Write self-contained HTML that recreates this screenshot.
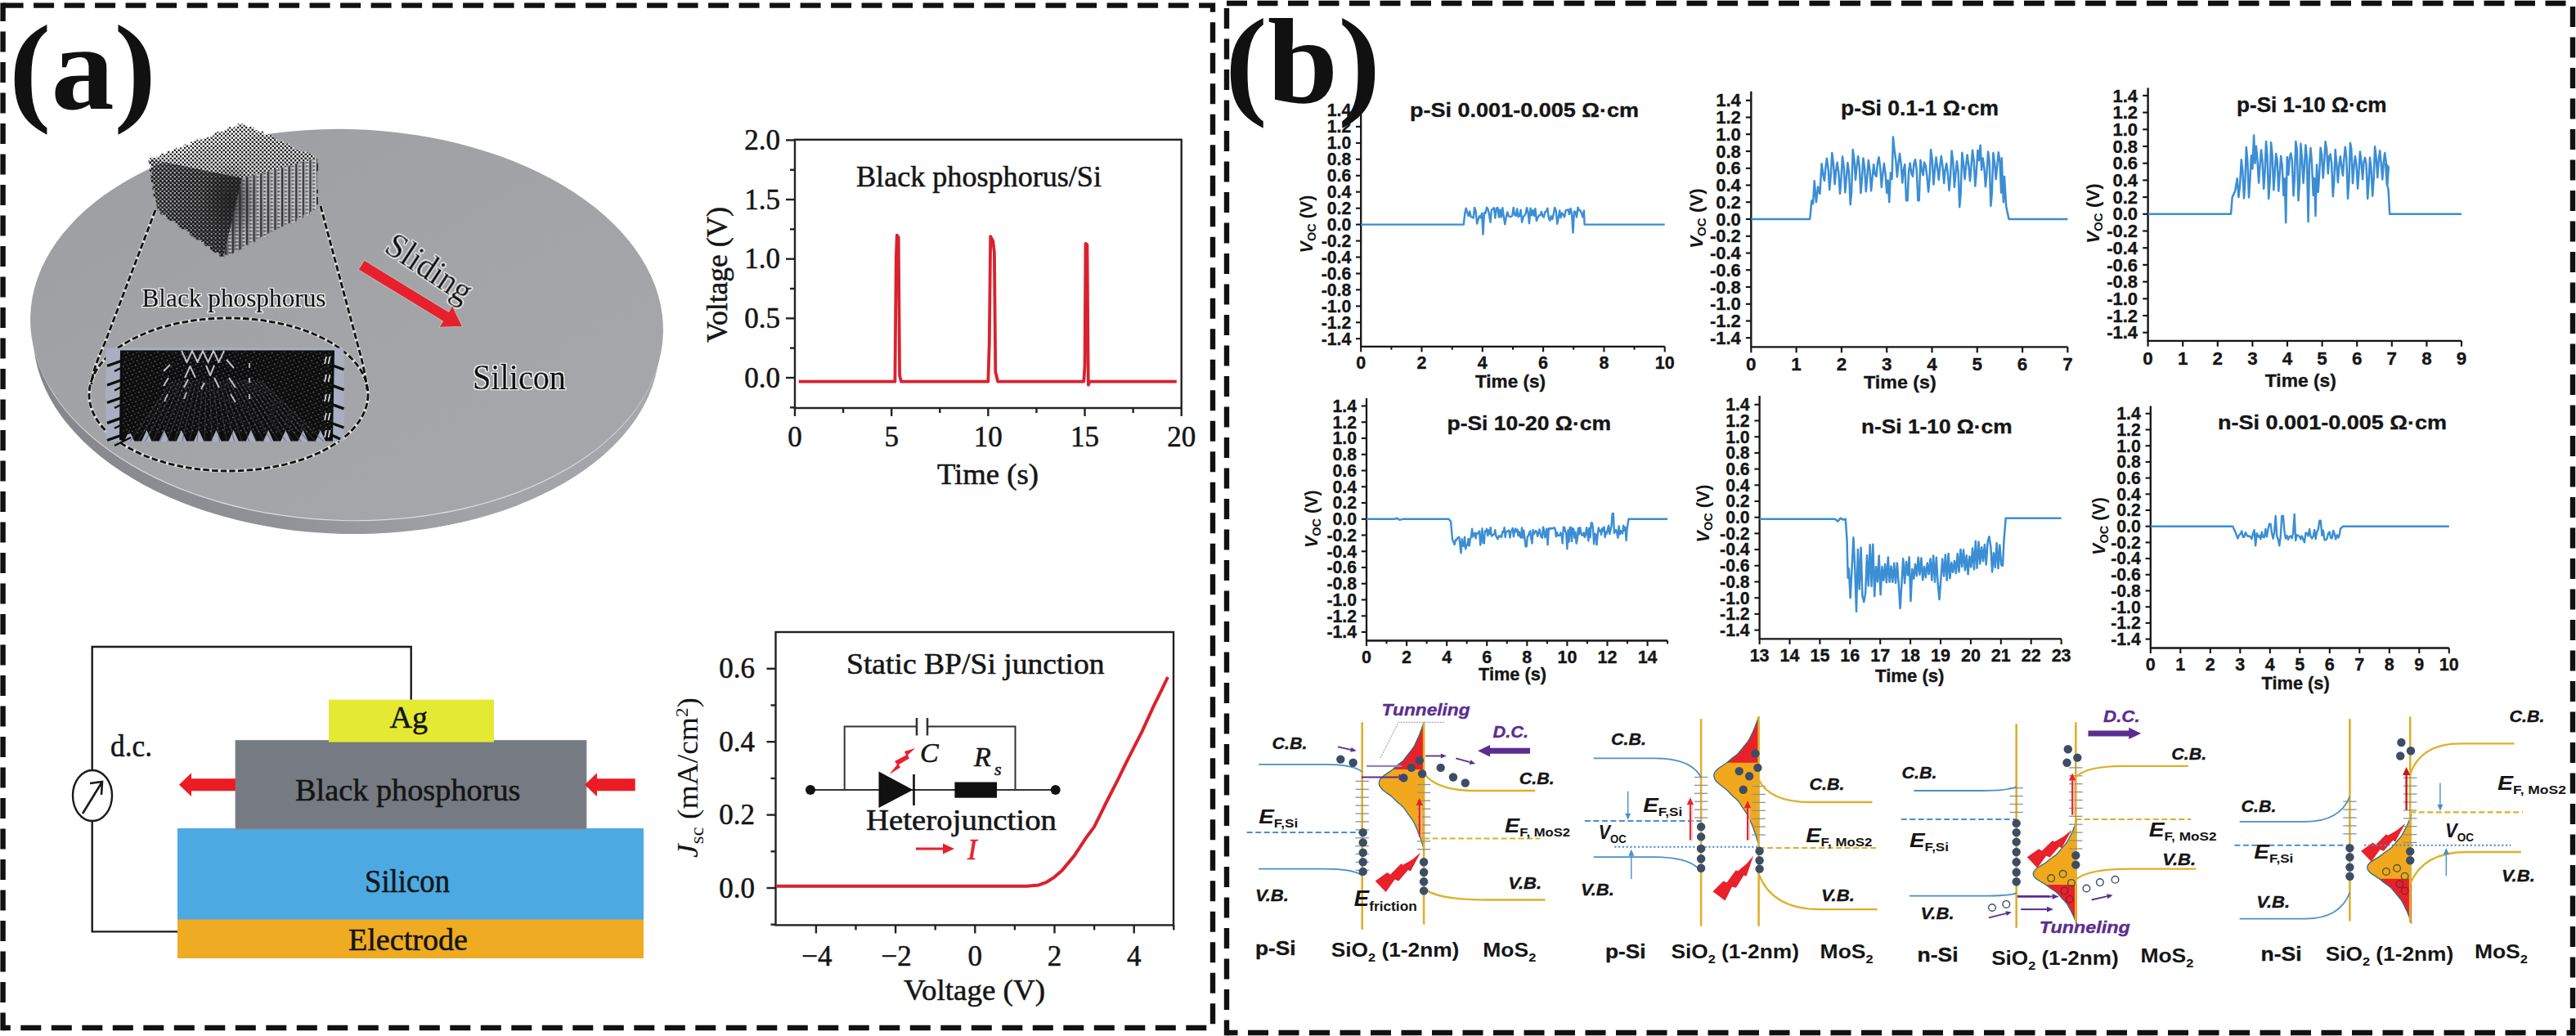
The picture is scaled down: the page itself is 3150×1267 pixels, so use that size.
<!DOCTYPE html>
<html lang="en"><head><meta charset="utf-8"><title>Figure</title>
<style>
html,body{margin:0;padding:0;background:#fff;}
body{width:3150px;height:1267px;overflow:hidden;}
svg{display:block;}
text{white-space:pre;}
</style></head><body>
<svg width="3150" height="1267" viewBox="0 0 3150 1267">
<rect width="3150" height="1267" fill="#fff"/>

<g fill="none" stroke="#111" stroke-width="6.4" stroke-dasharray="25 12.5">
<path d="M3.6 6.6 H1483 V1257 H3.6"/>
<path d="M3.6 3.4 V1260.2" stroke-dashoffset="2.3"/>
<path d="M1500 4 H3146 V1263 H1500"/>
<path d="M1500 10 V1266.2"/>
</g>
<defs>
<linearGradient id="discTop" x1="0" y1="0" x2="1" y2="1">
<stop offset="0" stop-color="#9d9ea1"/><stop offset="0.5" stop-color="#a3a4a7"/><stop offset="1" stop-color="#a6a7aa"/>
</linearGradient>
<linearGradient id="discRim" x1="0" y1="0" x2="1" y2="0">
<stop offset="0" stop-color="#85868b"/><stop offset="0.4" stop-color="#909298"/><stop offset="0.7" stop-color="#a0a2a8"/><stop offset="1" stop-color="#a6a8ad"/>
</linearGradient>
<pattern id="dots" width="5" height="5" patternUnits="userSpaceOnUse">
<rect x="0" y="0" width="2.7" height="2.7" fill="#121214"/><rect x="2.5" y="2.5" width="2.7" height="2.7" fill="#121214"/>
<rect x="2.6" y="0" width="1.8" height="1.8" fill="#c8c8ca" opacity="0.5"/>
</pattern>
<pattern id="dotsW" width="5" height="5" patternUnits="userSpaceOnUse">
<rect x="0" y="0" width="2.4" height="2.4" fill="#1c1c1e"/><rect x="2.5" y="2.5" width="2.4" height="2.4" fill="#1c1c1e"/>
<rect x="2.5" y="0" width="2.4" height="2.4" fill="#ffffff" opacity="0.9"/><rect x="0" y="2.5" width="2.4" height="2.4" fill="#ffffff" opacity="0.65"/>
</pattern>
<pattern id="cols" width="8.6" height="4.4" patternUnits="userSpaceOnUse">
<rect x="0" y="0" width="2.2" height="4.4" fill="#343437"/><rect x="4.3" y="0" width="2" height="2.2" fill="#4a4a4d"/>
<rect x="4.3" y="2.2" width="3.4" height="2.2" fill="#dcdcde" opacity="0.75"/>
</pattern>
<pattern id="speck" width="7" height="6" patternUnits="userSpaceOnUse" patternTransform="rotate(18)">
<rect x="1" y="1" width="1.5" height="1.5" fill="#8c8d95" opacity="0.8"/><rect x="4.5" y="3.8" width="1.3" height="1.3" fill="#70717a" opacity="0.8"/>
</pattern>
<linearGradient id="topShade" x1="0" y1="0" x2="1" y2="0.6">
<stop offset="0" stop-color="#fff" stop-opacity="0.6"/><stop offset="0.5" stop-color="#ddd" stop-opacity="0.5"/><stop offset="1" stop-color="#999" stop-opacity="0.3"/>
</linearGradient>
<linearGradient id="leftShade" x1="0" y1="0" x2="1" y2="0">
<stop offset="0" stop-color="#555" stop-opacity="0.15"/><stop offset="1" stop-color="#222" stop-opacity="0.8"/>
</linearGradient>
<linearGradient id="rightShade" x1="0" y1="0" x2="1" y2="0">
<stop offset="0" stop-color="#444" stop-opacity="0.6"/><stop offset="0.35" stop-color="#999" stop-opacity="0.3"/><stop offset="1" stop-color="#ccc" stop-opacity="0.35"/>
</linearGradient>
<radialGradient id="core"><stop offset="0" stop-color="#222" stop-opacity="0.75"/><stop offset="1" stop-color="#222" stop-opacity="0"/></radialGradient>
<filter id="halo" x="-10%" y="-30%" width="120%" height="160%"><feMorphology in="SourceAlpha" operator="dilate" radius="1.25" result="d"/><feFlood flood-color="#fff"/><feComposite in2="d" operator="in" result="h"/><feMerge><feMergeNode in="h"/><feMergeNode in="SourceGraphic"/></feMerge></filter>
<filter id="soft" x="-5%" y="-5%" width="110%" height="110%"><feGaussianBlur stdDeviation="0.6"/></filter>
<filter id="soft2" x="-5%" y="-5%" width="110%" height="110%"><feGaussianBlur stdDeviation="1.2"/></filter>
<clipPath id="bpclip"><rect x="128.5" y="427.5" width="295.5" height="113.5"/></clipPath>
</defs>
<text x="11" y="133" font-family='"Liberation Serif", serif' font-size="149" font-weight="bold" fill="#111" textLength="180" lengthAdjust="spacingAndGlyphs">(a)</text>
<text x="1498" y="124.5" font-family='"Liberation Serif", serif' font-size="149" font-weight="bold" fill="#111" textLength="190" lengthAdjust="spacingAndGlyphs">(b)</text>
<g transform="rotate(1.5 424 397)">
<ellipse cx="424" cy="416.5" rx="383" ry="236.5" fill="url(#discRim)"/>
<ellipse cx="424" cy="399.2" rx="386.5" ry="238" fill="#dcdcde"/>
<ellipse cx="424" cy="397" rx="387" ry="239" fill="url(#discTop)"/>
</g>
<g filter="url(#soft2)">
<polygon points="190,257 272.7,316 389,257 330,250" fill="#6e6e70" opacity="0.3"/>
</g>
<g filter="url(#soft)">
<polygon points="296.5,149.2 390,193 296,218 181,194" fill="url(#topShade)"/>
<polygon points="296.5,149.2 390,193 296,218 181,194" fill="url(#dotsW)"/>
<polygon points="181,194 296,218 272.7,316 190,257" fill="url(#leftShade)"/>
<polygon points="181,194 296,218 272.7,316 190,257" fill="url(#dots)"/>
<polygon points="296,218 390,193 389,257 272.7,316" fill="url(#rightShade)"/>
<polygon points="296,218 390,193 389,257 272.7,316" fill="url(#cols)"/>
<ellipse cx="281" cy="244" rx="36" ry="46" fill="url(#core)"/>
<rect x="294.3" y="147.0" width="4.4" height="4.4" fill="#ffffff"/>
<rect x="298.4" y="148.9" width="4.4" height="4.4" fill="#ffffff"/>
<rect x="302.4" y="150.8" width="4.4" height="4.4" fill="#ffffff"/>
<rect x="310.6" y="154.6" width="4.4" height="4.4" fill="#ffffff"/>
<rect x="314.6" y="156.5" width="4.4" height="4.4" fill="#ffffff"/>
<rect x="322.8" y="160.3" width="4.4" height="4.4" fill="#ffffff"/>
<rect x="335.0" y="166.0" width="4.4" height="4.4" fill="#a1a2a5"/>
<rect x="339.0" y="167.9" width="4.4" height="4.4" fill="#a1a2a5"/>
<rect x="347.1" y="171.8" width="4.4" height="4.4" fill="#a1a2a5"/>
<rect x="355.3" y="175.6" width="4.4" height="4.4" fill="#a1a2a5"/>
<rect x="359.3" y="177.5" width="4.4" height="4.4" fill="#a1a2a5"/>
<rect x="363.4" y="179.4" width="4.4" height="4.4" fill="#a1a2a5"/>
<rect x="367.5" y="181.3" width="4.4" height="4.4" fill="#a1a2a5"/>
<rect x="383.7" y="188.9" width="4.4" height="4.4" fill="#a1a2a5"/>
<rect x="387.8" y="190.8" width="4.4" height="4.4" fill="#a1a2a5"/>
<rect x="387.7" y="195.4" width="4.4" height="4.4" fill="#a1a2a5"/>
<rect x="387.5" y="209.1" width="4.4" height="4.4" fill="#a1a2a5"/>
<rect x="387.4" y="213.7" width="4.4" height="4.4" fill="#a1a2a5"/>
<rect x="387.4" y="218.2" width="4.4" height="4.4" fill="#a1a2a5"/>
<rect x="387.3" y="222.8" width="4.4" height="4.4" fill="#a1a2a5"/>
<rect x="387.2" y="227.4" width="4.4" height="4.4" fill="#a1a2a5"/>
<rect x="387.1" y="236.5" width="4.4" height="4.4" fill="#a1a2a5"/>
<rect x="386.9" y="250.2" width="4.4" height="4.4" fill="#a1a2a5"/>
<rect x="386.8" y="254.8" width="4.4" height="4.4" fill="#a1a2a5"/>
<rect x="386.8" y="254.8" width="4.4" height="4.4" fill="#a1a2a5"/>
<rect x="382.8" y="256.8" width="4.4" height="4.4" fill="#a1a2a5"/>
<rect x="378.8" y="258.9" width="4.4" height="4.4" fill="#a1a2a5"/>
<rect x="370.8" y="262.9" width="4.4" height="4.4" fill="#a1a2a5"/>
<rect x="362.7" y="267.0" width="4.4" height="4.4" fill="#a1a2a5"/>
<rect x="350.7" y="273.1" width="4.4" height="4.4" fill="#a1a2a5"/>
<rect x="346.7" y="275.1" width="4.4" height="4.4" fill="#a1a2a5"/>
<rect x="342.7" y="277.2" width="4.4" height="4.4" fill="#a1a2a5"/>
<rect x="338.7" y="279.2" width="4.4" height="4.4" fill="#a1a2a5"/>
<rect x="334.7" y="281.2" width="4.4" height="4.4" fill="#a1a2a5"/>
<rect x="330.7" y="283.3" width="4.4" height="4.4" fill="#a1a2a5"/>
<rect x="326.6" y="285.3" width="4.4" height="4.4" fill="#a1a2a5"/>
<rect x="318.6" y="289.4" width="4.4" height="4.4" fill="#a1a2a5"/>
<rect x="314.6" y="291.4" width="4.4" height="4.4" fill="#a1a2a5"/>
<rect x="306.6" y="295.5" width="4.4" height="4.4" fill="#a1a2a5"/>
<rect x="298.6" y="299.6" width="4.4" height="4.4" fill="#a1a2a5"/>
<rect x="286.5" y="305.7" width="4.4" height="4.4" fill="#a1a2a5"/>
<rect x="274.5" y="311.8" width="4.4" height="4.4" fill="#a1a2a5"/>
<rect x="270.5" y="313.8" width="4.4" height="4.4" fill="#a1a2a5"/>
<rect x="263.3" y="308.7" width="4.4" height="4.4" fill="#a1a2a5"/>
<rect x="252.5" y="301.0" width="4.4" height="4.4" fill="#a1a2a5"/>
<rect x="245.3" y="295.8" width="4.4" height="4.4" fill="#a1a2a5"/>
<rect x="241.7" y="293.3" width="4.4" height="4.4" fill="#a1a2a5"/>
<rect x="227.4" y="283.0" width="4.4" height="4.4" fill="#a1a2a5"/>
<rect x="223.8" y="280.5" width="4.4" height="4.4" fill="#a1a2a5"/>
<rect x="213.0" y="272.8" width="4.4" height="4.4" fill="#a1a2a5"/>
<rect x="209.4" y="270.2" width="4.4" height="4.4" fill="#a1a2a5"/>
<rect x="198.6" y="262.5" width="4.4" height="4.4" fill="#a1a2a5"/>
<rect x="191.4" y="257.4" width="4.4" height="4.4" fill="#a1a2a5"/>
<rect x="187.8" y="254.8" width="4.4" height="4.4" fill="#a1a2a5"/>
<rect x="187.8" y="254.8" width="4.4" height="4.4" fill="#a1a2a5"/>
<rect x="187.2" y="250.3" width="4.4" height="4.4" fill="#a1a2a5"/>
<rect x="186.5" y="245.8" width="4.4" height="4.4" fill="#a1a2a5"/>
<rect x="185.9" y="241.3" width="4.4" height="4.4" fill="#a1a2a5"/>
<rect x="184.6" y="232.3" width="4.4" height="4.4" fill="#a1a2a5"/>
<rect x="183.3" y="223.3" width="4.4" height="4.4" fill="#a1a2a5"/>
<rect x="181.4" y="209.8" width="4.4" height="4.4" fill="#a1a2a5"/>
<rect x="180.1" y="200.8" width="4.4" height="4.4" fill="#ffffff"/>
<rect x="178.8" y="191.8" width="4.4" height="4.4" fill="#ffffff"/>
<rect x="178.8" y="191.8" width="4.4" height="4.4" fill="#ffffff"/>
<rect x="187.1" y="188.6" width="4.4" height="4.4" fill="#ffffff"/>
<rect x="191.2" y="187.0" width="4.4" height="4.4" fill="#ffffff"/>
<rect x="199.4" y="183.8" width="4.4" height="4.4" fill="#ffffff"/>
<rect x="207.7" y="180.6" width="4.4" height="4.4" fill="#ffffff"/>
<rect x="215.9" y="177.4" width="4.4" height="4.4" fill="#ffffff"/>
<rect x="220.1" y="175.8" width="4.4" height="4.4" fill="#ffffff"/>
<rect x="228.3" y="172.6" width="4.4" height="4.4" fill="#ffffff"/>
<rect x="244.8" y="166.2" width="4.4" height="4.4" fill="#ffffff"/>
<rect x="248.9" y="164.6" width="4.4" height="4.4" fill="#ffffff"/>
<rect x="253.1" y="163.0" width="4.4" height="4.4" fill="#ffffff"/>
<rect x="257.2" y="161.4" width="4.4" height="4.4" fill="#ffffff"/>
<rect x="269.6" y="156.6" width="4.4" height="4.4" fill="#ffffff"/>
<rect x="273.7" y="155.0" width="4.4" height="4.4" fill="#ffffff"/>
<rect x="281.9" y="151.8" width="4.4" height="4.4" fill="#ffffff"/>
<rect x="286.1" y="150.2" width="4.4" height="4.4" fill="#ffffff"/>
</g>
<g fill="none" stroke="#dcdcdc" stroke-width="4.2" >
<path d="M190 257 L128 420 Q112 455 112 470"/>
<path d="M392 252 L437 420 Q447 455 449 478"/>
<ellipse cx="279.5" cy="482.5" rx="170.5" ry="93.5"/>
</g>
<g fill="none" stroke="#111" stroke-width="2.8" stroke-dasharray="7.5 3.2">
<path d="M190 257 L128 420 Q112 455 112 470"/>
<path d="M392 252 L437 420 Q447 455 449 478"/>
<ellipse cx="279.5" cy="482.5" rx="170.5" ry="93.5"/>
</g>
<g filter="url(#soft)">
<rect x="129.3" y="425.5" width="291.2" height="114.5" fill="#a9afc0"/>
<polygon points="147,428.5 409,428.5 407,536 407.0,539.5 398.0,539.5 391.9,526 385.8,539.5 376.8,539.5 370.6,526 364.5,539.5 355.5,539.5 349.4,526 343.2,539.5 334.2,539.5 328.1,526 322.0,539.5 313.0,539.5 306.9,526 300.8,539.5 291.8,539.5 285.6,526 279.5,539.5 270.5,539.5 264.4,526 258.2,539.5 249.2,539.5 243.1,526 237.0,539.5 228.0,539.5 221.9,526 215.8,539.5 206.8,539.5 200.6,526 194.5,539.5 185.5,539.5 179.4,526 173.2,539.5 164.2,539.5 158.1,526 152,539.5 146,538" fill="#0c0c0c"/>
<g stroke="#0c0c0c" stroke-width="3.4" stroke-linecap="butt">
<line x1="172" y1="433" x2="131" y2="447.5"/>
<line x1="160" y1="444" x2="140" y2="454" stroke-width="2.4"/>
<line x1="172" y1="456.5" x2="131" y2="471.0"/>
<line x1="160" y1="467.5" x2="140" y2="477.5" stroke-width="2.4"/>
<line x1="172" y1="478" x2="131" y2="492.5"/>
<line x1="160" y1="489" x2="140" y2="499" stroke-width="2.4"/>
<line x1="172" y1="502.79999999999995" x2="131" y2="517.3"/>
<line x1="160" y1="513.8" x2="140" y2="523.8" stroke-width="2.4"/>
<line x1="172" y1="524" x2="131" y2="538.5"/>
<line x1="160" y1="535" x2="140" y2="545" stroke-width="2.4"/>
<line x1="385" y1="439" x2="420.5" y2="452"/>
<line x1="385" y1="463.7" x2="420.5" y2="476.7"/>
<line x1="385" y1="486.8" x2="420.5" y2="499.8"/>
<line x1="385" y1="510" x2="420.5" y2="523"/>
<line x1="395" y1="527" x2="416" y2="537"/>
</g>
<g clip-path="url(#bpclip)" stroke="#4a4b52" stroke-width="1.2" fill="none" opacity="0.55">
<line x1="211.3" y1="465.2" x2="159.1" y2="540"/>
<line x1="215.4" y1="465.2" x2="168.2" y2="540"/>
<line x1="219.5" y1="465.2" x2="177.3" y2="540"/>
<line x1="223.6" y1="465.2" x2="186.4" y2="540"/>
<line x1="227.7" y1="465.2" x2="195.5" y2="540"/>
<line x1="231.8" y1="465.2" x2="204.6" y2="540"/>
<line x1="235.9" y1="465.2" x2="213.7" y2="540"/>
<line x1="240.0" y1="465.2" x2="222.8" y2="540"/>
<line x1="244.1" y1="465.2" x2="231.9" y2="540"/>
<line x1="248.2" y1="465.2" x2="241.0" y2="540"/>
<line x1="252.2" y1="465.2" x2="250.1" y2="540"/>
<line x1="256.3" y1="465.2" x2="259.2" y2="540"/>
<line x1="260.4" y1="465.2" x2="268.3" y2="540"/>
<line x1="264.5" y1="465.2" x2="277.4" y2="540"/>
<line x1="268.6" y1="465.2" x2="286.5" y2="540"/>
<line x1="272.7" y1="465.2" x2="295.6" y2="540"/>
<line x1="276.8" y1="465.2" x2="304.7" y2="540"/>
<line x1="280.9" y1="465.2" x2="313.8" y2="540"/>
<line x1="285.0" y1="465.2" x2="322.9" y2="540"/>
<line x1="289.1" y1="465.2" x2="332.0" y2="540"/>
<line x1="293.2" y1="465.2" x2="341.1" y2="540"/>
<line x1="297.3" y1="465.2" x2="350.2" y2="540"/>
<line x1="301.4" y1="465.2" x2="359.3" y2="540"/>
<line x1="305.5" y1="465.2" x2="368.4" y2="540"/>
<line x1="309.6" y1="465.2" x2="377.5" y2="540"/>
<line x1="313.7" y1="465.2" x2="386.6" y2="540"/>
<line x1="317.8" y1="465.2" x2="395.7" y2="540"/>
</g>
<rect x="150" y="430" width="256" height="100" fill="url(#speck)"/>
<g stroke="#dcdce6" stroke-width="2" fill="none" stroke-linejoin="round" opacity="0.85">
<path d="M222 429 l6.5 14 l6.5 -14 l6.5 14 l6.5 -14 l6.5 14 l6.5 -14 l6.5 14 l6.5 -14"/>
<path d="M208 446 l-8 8 M226 462 l6.5 -14 l6.5 14 M252 447 l5 12 l5 -12 M277 440 l9 10"/>
<path d="M206 462 l-6 10 M225 474 l5 -10 M250 468 l-4 8 M262 462 l6 12 M280 462 l8 12"/>
<path d="M205 482 l-4 9 M228 480 l-3 8 M282 482 l6 10 M305 444 l0 6 M305 462 l0 6 M305 482 l0 6" stroke-width="1.8"/>
</g>
<g stroke="#e4e4ec" stroke-width="1.6">
<line x1="399" y1="436" x2="397" y2="445"/><line x1="403.5" y1="436" x2="401.5" y2="445"/>
<line x1="399" y1="458" x2="397" y2="467"/><line x1="403.5" y1="458" x2="401.5" y2="467"/>
<line x1="399" y1="482" x2="397" y2="491"/><line x1="403.5" y1="482" x2="401.5" y2="491"/>
<line x1="399" y1="505" x2="397" y2="514"/><line x1="403.5" y1="505" x2="401.5" y2="514"/>
<line x1="399" y1="526" x2="397" y2="535"/><line x1="403.5" y1="526" x2="401.5" y2="535"/>
</g>
</g>
<text x="173.5" y="374.5" font-family='"Liberation Serif", serif' font-size="30.5" fill="#111" textLength="225" lengthAdjust="spacingAndGlyphs" stroke="#111" stroke-width="0.7" filter="url(#halo)">Black phosphorus</text>
<text x="578" y="476" font-family='"Liberation Serif", serif' font-size="44" fill="#111" textLength="114" lengthAdjust="spacingAndGlyphs" stroke="#111" stroke-width="0.7" filter="url(#halo)">Silicon</text>
<text x="468" y="307" font-family='"Liberation Serif", serif' font-size="44" fill="#111" textLength="118" lengthAdjust="spacingAndGlyphs" transform="rotate(33.5 468 307)" stroke="#111" stroke-width="0.7" filter="url(#halo)">Sliding</text>
<g transform="translate(441.8 324) rotate(31.4)"><polygon points="0,-6.8 121,-6.8 121,-15.5 145,0 121,15.5 121,6.8 0,6.8" fill="#e8202e" stroke="#b4bcb4" stroke-width="1"/></g>
<g stroke="#222" stroke-width="2.4" fill="none">
<rect x="972" y="170.8" width="472.70000000000005" height="328.2"/>
<line x1="972" y1="462.0" x2="961" y2="462.0"/><line x1="972" y1="389.35" x2="961" y2="389.35"/><line x1="972" y1="316.7" x2="961" y2="316.7"/><line x1="972" y1="244.04999999999998" x2="961" y2="244.04999999999998"/><line x1="972" y1="171.39999999999998" x2="961" y2="171.39999999999998"/>
<line x1="972" y1="498.325" x2="966" y2="498.325"/><line x1="972" y1="425.675" x2="966" y2="425.675"/><line x1="972" y1="353.025" x2="966" y2="353.025"/><line x1="972" y1="280.375" x2="966" y2="280.375"/><line x1="972" y1="207.72499999999997" x2="966" y2="207.72499999999997"/>
<line x1="972.0" y1="499" x2="972.0" y2="509"/><line x1="1090.175" y1="499" x2="1090.175" y2="509"/><line x1="1208.35" y1="499" x2="1208.35" y2="509"/><line x1="1326.525" y1="499" x2="1326.525" y2="509"/><line x1="1444.7" y1="499" x2="1444.7" y2="509"/>
<line x1="1031.0875" y1="499" x2="1031.0875" y2="505"/><line x1="1149.2625" y1="499" x2="1149.2625" y2="505"/><line x1="1267.4375" y1="499" x2="1267.4375" y2="505"/><line x1="1385.6125" y1="499" x2="1385.6125" y2="505"/>
</g>
<text x="954" y="473.5" font-family='"Liberation Serif", serif' font-size="35" text-anchor="end" fill="#151515" stroke="#151515" stroke-width="0.55">0.0</text>
<text x="954" y="400.85" font-family='"Liberation Serif", serif' font-size="35" text-anchor="end" fill="#151515" stroke="#151515" stroke-width="0.55">0.5</text>
<text x="954" y="328.2" font-family='"Liberation Serif", serif' font-size="35" text-anchor="end" fill="#151515" stroke="#151515" stroke-width="0.55">1.0</text>
<text x="954" y="255.54999999999998" font-family='"Liberation Serif", serif' font-size="35" text-anchor="end" fill="#151515" stroke="#151515" stroke-width="0.55">1.5</text>
<text x="954" y="182.89999999999998" font-family='"Liberation Serif", serif' font-size="35" text-anchor="end" fill="#151515" stroke="#151515" stroke-width="0.55">2.0</text>
<text x="972.0" y="546" font-family='"Liberation Serif", serif' font-size="35" text-anchor="middle" fill="#151515" stroke="#151515" stroke-width="0.55">0</text>
<text x="1090.175" y="546" font-family='"Liberation Serif", serif' font-size="35" text-anchor="middle" fill="#151515" stroke="#151515" stroke-width="0.55">5</text>
<text x="1208.35" y="546" font-family='"Liberation Serif", serif' font-size="35" text-anchor="middle" fill="#151515" stroke="#151515" stroke-width="0.55">10</text>
<text x="1326.525" y="546" font-family='"Liberation Serif", serif' font-size="35" text-anchor="middle" fill="#151515" stroke="#151515" stroke-width="0.55">15</text>
<text x="1444.7" y="546" font-family='"Liberation Serif", serif' font-size="35" text-anchor="middle" fill="#151515" stroke="#151515" stroke-width="0.55">20</text>
<text x="1208" y="592" font-family='"Liberation Serif", serif' font-size="36" text-anchor="middle" fill="#151515" stroke="#151515" stroke-width="0.55" textLength="124" lengthAdjust="spacingAndGlyphs">Time (s)</text>
<text x="888.5" y="336" font-family='"Liberation Serif", serif' font-size="36" text-anchor="middle" fill="#151515" stroke="#151515" stroke-width="0.55" textLength="166" lengthAdjust="spacingAndGlyphs" transform="rotate(-90 888.5 336)">Voltage (V)</text>
<text x="1047" y="228" font-family='"Liberation Serif", serif' font-size="36.5" fill="#151515" stroke="#151515" stroke-width="0.55" textLength="300" lengthAdjust="spacingAndGlyphs">Black phosphorus/Si</text>
<path d="M976.7 466.7 L1094.4 466.7 L1095.8 316.7 L1096.8 287.6 L1098.7 290.5 L1100.1 459.1 L1102.0 466.7 L1208.3 466.7 L1209.8 418.4 L1211.2 289.1 L1214.3 294.9 L1215.9 309.4 L1217.3 454.7 L1220.2 466.7 L1325.3 466.7 L1326.5 447.5 L1327.5 297.8 L1329.4 299.3 L1330.8 470.7 L1332.4 466.7 L1438.8 466.7" fill="none" stroke="#d9222e" stroke-width="3.8" stroke-linejoin="round"/>
<path d="M502.7 856 V791 H112.7 V1139.4 H218" fill="none" stroke="#1a1a1a" stroke-width="2.4"/>
<rect x="217" y="1124" width="570" height="48" fill="#efab22"/>
<rect x="217" y="1013" width="570" height="111.5" fill="#4ca9e2"/>
<rect x="288" y="905.5" width="429" height="108.5" fill="#767a82" stroke="#8a8e98" stroke-width="1"/>
<rect x="402" y="855.6" width="202" height="52" fill="#e4ea33"/>
<ellipse cx="113" cy="973" rx="24" ry="31" fill="#fff" stroke="#1a1a1a" stroke-width="2.4"/>
<path d="M101 995 L125 956 M110 958 L125 956 L124 972" fill="none" stroke="#1a1a1a" stroke-width="2.6"/>
<polygon points="219,959.7 234,945.3 234,952.2 288,952.2 288,967.2 234,967.2 234,974.1" fill="#ec1c24"/>
<polygon points="715,959.7 730,945.3 730,952.2 776.7,952.2 776.7,967.2 730,967.2 730,974.1" fill="#ec1c24"/>
<text x="135" y="925" font-family='"Liberation Serif", serif' font-size="38" fill="#151515" stroke="#151515" stroke-width="0.55" textLength="51" lengthAdjust="spacingAndGlyphs">d.c.</text>
<text x="499.7" y="889.6" font-family='"Liberation Serif", serif' font-size="38" text-anchor="middle" fill="#151515" stroke="#151515" stroke-width="0.55">Ag</text>
<text x="361" y="978.8" font-family='"Liberation Serif", serif' font-size="38.5" fill="#151515" stroke="#151515" stroke-width="0.55" textLength="275.5" lengthAdjust="spacingAndGlyphs">Black phosphorus</text>
<text x="446" y="1091" font-family='"Liberation Serif", serif' font-size="40" fill="#151515" stroke="#151515" stroke-width="0.55" textLength="104" lengthAdjust="spacingAndGlyphs">Silicon</text>
<text x="426" y="1161.5" font-family='"Liberation Serif", serif' font-size="38.5" fill="#151515" stroke="#151515" stroke-width="0.55" textLength="146" lengthAdjust="spacingAndGlyphs">Electrode</text>
<g stroke="#222" stroke-width="2.4" fill="none">
<rect x="948.5" y="773" width="486.5" height="358.4000000000001"/>
<line x1="948.5" y1="1086.0" x2="937.5" y2="1086.0"/><line x1="948.5" y1="996.6" x2="937.5" y2="996.6"/><line x1="948.5" y1="907.2" x2="937.5" y2="907.2"/><line x1="948.5" y1="817.8" x2="937.5" y2="817.8"/>
<line x1="948.5" y1="1130.7" x2="942.5" y2="1130.7"/><line x1="948.5" y1="1041.3" x2="942.5" y2="1041.3"/><line x1="948.5" y1="951.9" x2="942.5" y2="951.9"/><line x1="948.5" y1="862.5" x2="942.5" y2="862.5"/>
<line x1="997.9" y1="1131.4" x2="997.9" y2="1141.4"/><line x1="1095.1" y1="1131.4" x2="1095.1" y2="1141.4"/><line x1="1192.3" y1="1131.4" x2="1192.3" y2="1141.4"/><line x1="1289.5" y1="1131.4" x2="1289.5" y2="1141.4"/><line x1="1386.7" y1="1131.4" x2="1386.7" y2="1141.4"/>
<line x1="1046.5" y1="1131.4" x2="1046.5" y2="1137.4"/><line x1="1143.7" y1="1131.4" x2="1143.7" y2="1137.4"/><line x1="1240.8999999999999" y1="1131.4" x2="1240.8999999999999" y2="1137.4"/><line x1="1338.1" y1="1131.4" x2="1338.1" y2="1137.4"/><line x1="1435.3" y1="1131.4" x2="1435.3" y2="1137.4"/>
</g>
<text x="923" y="1097.5" font-family='"Liberation Serif", serif' font-size="35" text-anchor="end" fill="#151515" stroke="#151515" stroke-width="0.55">0.0</text>
<text x="923" y="1008.1" font-family='"Liberation Serif", serif' font-size="35" text-anchor="end" fill="#151515" stroke="#151515" stroke-width="0.55">0.2</text>
<text x="923" y="918.7" font-family='"Liberation Serif", serif' font-size="35" text-anchor="end" fill="#151515" stroke="#151515" stroke-width="0.55">0.4</text>
<text x="923" y="829.3" font-family='"Liberation Serif", serif' font-size="35" text-anchor="end" fill="#151515" stroke="#151515" stroke-width="0.55">0.6</text>
<text x="998.9" y="1180.5" font-family='"Liberation Serif", serif' font-size="35" text-anchor="middle" fill="#151515" stroke="#151515" stroke-width="0.55">−4</text>
<text x="1096.1" y="1180.5" font-family='"Liberation Serif", serif' font-size="35" text-anchor="middle" fill="#151515" stroke="#151515" stroke-width="0.55">−2</text>
<text x="1192.3" y="1180.5" font-family='"Liberation Serif", serif' font-size="35" text-anchor="middle" fill="#151515" stroke="#151515" stroke-width="0.55">0</text>
<text x="1289.5" y="1180.5" font-family='"Liberation Serif", serif' font-size="35" text-anchor="middle" fill="#151515" stroke="#151515" stroke-width="0.55">2</text>
<text x="1386.7" y="1180.5" font-family='"Liberation Serif", serif' font-size="35" text-anchor="middle" fill="#151515" stroke="#151515" stroke-width="0.55">4</text>
<text x="1191.5" y="1223" font-family='"Liberation Serif", serif' font-size="36.5" text-anchor="middle" fill="#151515" stroke="#151515" stroke-width="0.55" textLength="173" lengthAdjust="spacingAndGlyphs">Voltage (V)</text>
<text x="852.5" y="951" font-family='"Liberation Serif", serif' font-size="36" fill="#151515" text-anchor="middle" transform="rotate(-90 852.5 951)" textLength="196" lengthAdjust="spacingAndGlyphs"><tspan font-style="italic">J</tspan><tspan font-size="24" dy="7">sc</tspan><tspan dy="-7"> (mA/cm</tspan><tspan font-size="22" dy="-12">2</tspan><tspan dy="12">)</tspan></text>
<text x="1035" y="824" font-family='"Liberation Serif", serif' font-size="36" fill="#151515" stroke="#151515" stroke-width="0.55" textLength="315.5" lengthAdjust="spacingAndGlyphs">Static BP/Si junction</text>
<path d="M949.3 1083.8 L1255.5 1083.8 L1270.1 1082.4 L1279.8 1078.8 L1289.5 1072.6 L1299.2 1063.9 L1313.8 1046.4 L1328.4 1024.1 L1338.1 1011.1 L1352.7 981.5 L1367.3 952.9 L1377.0 932.9 L1386.7 913.8 L1396.4 894.9 L1411.0 862.9 L1420.7 843.3 L1428.0 828.0" fill="none" stroke="#d9222e" stroke-width="4" stroke-linejoin="round"/>
<g stroke="#333" stroke-width="2" fill="none">
<path d="M991 966 H1290.7"/>
<path d="M1032.7 966 V888.6 H1121 M1134 888.6 H1241.5 V966"/>
<path d="M1121 878 V899.5 M1134 878 V899.5" stroke-width="2.6"/>
<path d="M1117.5 947 V985" stroke="#111" stroke-width="2.6"/>
</g>
<circle cx="991" cy="966" r="6" fill="#111"/><circle cx="1290.7" cy="966" r="6" fill="#111"/>
<polygon points="1074.5,943.5 1116.5,966 1074.5,988" fill="#111"/>
<rect x="1167.4" y="956.5" width="51.6" height="19.2" fill="#111"/>
<polygon points="1119,915 1106,919 1108,923.5 1094,931 1097,935 1087.5,947 1101,938.5 1099,935 1112,927.5 1110,923.5" fill="#e8202e"/>
<text x="1125" y="931.6" font-family='"Liberation Serif", serif' font-size="34" font-style="italic" fill="#151515" stroke="#151515" stroke-width="0.55">C</text>
<text x="1191" y="937" font-family='"Liberation Serif", serif' font-size="34" font-style="italic" fill="#151515" stroke="#151515" stroke-width="0.55">R</text>
<text x="1216" y="948" font-family='"Liberation Serif", serif' font-size="22" font-style="italic" fill="#151515" stroke="#151515" stroke-width="0.55">s</text>
<text x="1059" y="1015" font-family='"Liberation Serif", serif' font-size="36" fill="#151515" stroke="#151515" stroke-width="0.55" textLength="233" lengthAdjust="spacingAndGlyphs">Heterojunction</text>
<path d="M1120 1038 H1158" stroke="#e8202e" stroke-width="3.2"/><polygon points="1167,1038 1153,1031.5 1153,1044.5" fill="#e8202e"/>
<text x="1183" y="1051" font-family='"Liberation Serif", serif' font-size="35" font-style="italic" fill="#e8202e" stroke="#e8202e" stroke-width="0.55">I</text>
<path d="M1664.2 125 V423.8 H2035.7" fill="none" stroke="#151515" stroke-width="2.30"/>
<g stroke="#151515" stroke-width="2.10">
<line x1="1664.2" y1="414.2" x2="1658.0" y2="414.2"/>
<line x1="1664.2" y1="394.3" x2="1658.0" y2="394.3"/>
<line x1="1664.2" y1="374.4" x2="1658.0" y2="374.4"/>
<line x1="1664.2" y1="354.4" x2="1658.0" y2="354.4"/>
<line x1="1664.2" y1="334.5" x2="1658.0" y2="334.5"/>
<line x1="1664.2" y1="314.5" x2="1658.0" y2="314.5"/>
<line x1="1664.2" y1="294.6" x2="1658.0" y2="294.6"/>
<line x1="1664.2" y1="274.6" x2="1658.0" y2="274.6"/>
<line x1="1664.2" y1="254.7" x2="1658.0" y2="254.7"/>
<line x1="1664.2" y1="234.7" x2="1658.0" y2="234.7"/>
<line x1="1664.2" y1="214.8" x2="1658.0" y2="214.8"/>
<line x1="1664.2" y1="194.8" x2="1658.0" y2="194.8"/>
<line x1="1664.2" y1="174.9" x2="1658.0" y2="174.9"/>
<line x1="1664.2" y1="154.9" x2="1658.0" y2="154.9"/>
<line x1="1664.2" y1="135.0" x2="1658.0" y2="135.0"/>
<line x1="1664.2" y1="423.8" x2="1664.2" y2="430.4"/>
<line x1="1701.4" y1="423.8" x2="1701.4" y2="427.7"/>
<line x1="1738.5" y1="423.8" x2="1738.5" y2="430.4"/>
<line x1="1775.7" y1="423.8" x2="1775.7" y2="427.7"/>
<line x1="1812.8" y1="423.8" x2="1812.8" y2="430.4"/>
<line x1="1850.0" y1="423.8" x2="1850.0" y2="427.7"/>
<line x1="1887.1" y1="423.8" x2="1887.1" y2="430.4"/>
<line x1="1924.2" y1="423.8" x2="1924.2" y2="427.7"/>
<line x1="1961.4" y1="423.8" x2="1961.4" y2="430.4"/>
<line x1="1998.5" y1="423.8" x2="1998.5" y2="427.7"/>
<line x1="2035.7" y1="423.8" x2="2035.7" y2="430.4"/>
</g>
<text x="1652.2" y="421.6" font-family='"Liberation Sans", sans-serif' font-size="21.2" font-weight="bold" text-anchor="end" fill="#151515" stroke="#151515" stroke-width="0.35">-1.4</text>
<text x="1652.2" y="401.6" font-family='"Liberation Sans", sans-serif' font-size="21.2" font-weight="bold" text-anchor="end" fill="#151515" stroke="#151515" stroke-width="0.35">-1.2</text>
<text x="1652.2" y="381.7" font-family='"Liberation Sans", sans-serif' font-size="21.2" font-weight="bold" text-anchor="end" fill="#151515" stroke="#151515" stroke-width="0.35">-1.0</text>
<text x="1652.2" y="361.7" font-family='"Liberation Sans", sans-serif' font-size="21.2" font-weight="bold" text-anchor="end" fill="#151515" stroke="#151515" stroke-width="0.35">-0.8</text>
<text x="1652.2" y="341.8" font-family='"Liberation Sans", sans-serif' font-size="21.2" font-weight="bold" text-anchor="end" fill="#151515" stroke="#151515" stroke-width="0.35">-0.6</text>
<text x="1652.2" y="321.8" font-family='"Liberation Sans", sans-serif' font-size="21.2" font-weight="bold" text-anchor="end" fill="#151515" stroke="#151515" stroke-width="0.35">-0.4</text>
<text x="1652.2" y="301.9" font-family='"Liberation Sans", sans-serif' font-size="21.2" font-weight="bold" text-anchor="end" fill="#151515" stroke="#151515" stroke-width="0.35">-0.2</text>
<text x="1652.2" y="281.9" font-family='"Liberation Sans", sans-serif' font-size="21.2" font-weight="bold" text-anchor="end" fill="#151515" stroke="#151515" stroke-width="0.35">0.0</text>
<text x="1652.2" y="262.0" font-family='"Liberation Sans", sans-serif' font-size="21.2" font-weight="bold" text-anchor="end" fill="#151515" stroke="#151515" stroke-width="0.35">0.2</text>
<text x="1652.2" y="242.0" font-family='"Liberation Sans", sans-serif' font-size="21.2" font-weight="bold" text-anchor="end" fill="#151515" stroke="#151515" stroke-width="0.35">0.4</text>
<text x="1652.2" y="222.1" font-family='"Liberation Sans", sans-serif' font-size="21.2" font-weight="bold" text-anchor="end" fill="#151515" stroke="#151515" stroke-width="0.35">0.6</text>
<text x="1652.2" y="202.1" font-family='"Liberation Sans", sans-serif' font-size="21.2" font-weight="bold" text-anchor="end" fill="#151515" stroke="#151515" stroke-width="0.35">0.8</text>
<text x="1652.2" y="182.2" font-family='"Liberation Sans", sans-serif' font-size="21.2" font-weight="bold" text-anchor="end" fill="#151515" stroke="#151515" stroke-width="0.35">1.0</text>
<text x="1652.2" y="162.2" font-family='"Liberation Sans", sans-serif' font-size="21.2" font-weight="bold" text-anchor="end" fill="#151515" stroke="#151515" stroke-width="0.35">1.2</text>
<text x="1652.2" y="142.3" font-family='"Liberation Sans", sans-serif' font-size="21.2" font-weight="bold" text-anchor="end" fill="#151515" stroke="#151515" stroke-width="0.35">1.4</text>
<text x="1664.2" y="451.3" font-family='"Liberation Sans", sans-serif' font-size="21.5" font-weight="bold" text-anchor="middle" fill="#151515" stroke="#151515" stroke-width="0.35">0</text>
<text x="1738.5" y="451.3" font-family='"Liberation Sans", sans-serif' font-size="21.5" font-weight="bold" text-anchor="middle" fill="#151515" stroke="#151515" stroke-width="0.35">2</text>
<text x="1812.8" y="451.3" font-family='"Liberation Sans", sans-serif' font-size="21.5" font-weight="bold" text-anchor="middle" fill="#151515" stroke="#151515" stroke-width="0.35">4</text>
<text x="1887.1" y="451.3" font-family='"Liberation Sans", sans-serif' font-size="21.5" font-weight="bold" text-anchor="middle" fill="#151515" stroke="#151515" stroke-width="0.35">6</text>
<text x="1961.4" y="451.3" font-family='"Liberation Sans", sans-serif' font-size="21.5" font-weight="bold" text-anchor="middle" fill="#151515" stroke="#151515" stroke-width="0.35">8</text>
<text x="2035.7" y="451.3" font-family='"Liberation Sans", sans-serif' font-size="21.5" font-weight="bold" text-anchor="middle" fill="#151515" stroke="#151515" stroke-width="0.35">10</text>
<text x="1804" y="474.4" font-family='"Liberation Sans", sans-serif' font-size="21.5" font-weight="bold" fill="#151515" stroke="#151515" stroke-width="0.35" textLength="86" lengthAdjust="spacingAndGlyphs">Time (s)</text>
<text x="1724" y="143.3" font-family='"Liberation Sans", sans-serif' font-size="24.5" font-weight="bold" fill="#151515" stroke="#151515" stroke-width="0.35" textLength="280" lengthAdjust="spacingAndGlyphs">p-Si 0.001-0.005 Ω·cm</text>
<text x="1605" y="274" font-family='"Liberation Sans", sans-serif' font-weight="bold" font-size="21.5" fill="#151515" text-anchor="middle" transform="rotate(-90 1605 274)"><tspan font-style="italic">V</tspan><tspan font-size="14.5" dy="4.0">OC</tspan><tspan dy="-4.0"> (V)</tspan></text>
<polyline points="1664.2,274.6 1789.8,274.6 1791.3,260.8 1792.7,254.6 1794.2,260.0 1795.7,264.2 1797.2,258.5 1798.7,265.4 1800.2,265.4 1801.7,266.6 1803.1,253.9 1804.6,258.1 1806.1,273.6 1807.6,268.7 1809.1,264.2 1810.6,266.2 1812.1,260.9 1813.5,286.6 1815.0,260.1 1816.5,260.7 1818.0,253.7 1819.5,255.7 1821.0,262.5 1822.5,271.8 1823.9,256.7 1825.4,255.6 1826.9,254.2 1828.4,266.6 1829.9,254.8 1831.4,253.9 1832.9,265.7 1834.3,256.5 1835.8,265.5 1837.3,254.1 1838.8,265.1 1840.3,274.3 1841.8,265.3 1843.3,259.4 1844.7,264.1 1846.2,264.9 1847.7,265.1 1849.2,263.9 1850.7,254.0 1852.2,262.7 1853.7,263.9 1855.2,255.5 1856.6,265.3 1858.1,263.9 1859.6,256.6 1861.1,271.8 1862.6,265.5 1864.1,263.5 1865.6,261.8 1867.0,254.2 1868.5,259.2 1870.0,273.2 1871.5,254.8 1873.0,263.4 1874.5,257.0 1876.0,264.1 1877.4,255.2 1878.9,270.1 1880.4,266.1 1881.9,263.5 1883.4,263.3 1884.9,258.9 1886.4,264.3 1887.8,265.7 1889.3,259.4 1890.8,258.7 1892.3,254.7 1893.8,266.4 1895.3,269.8 1896.8,264.3 1898.2,268.2 1899.7,261.9 1901.2,253.9 1902.7,257.7 1904.2,273.8 1905.7,266.4 1907.2,257.5 1908.6,266.3 1910.1,260.4 1911.6,262.5 1913.1,265.6 1914.6,257.1 1916.1,257.1 1917.6,256.3 1919.0,262.1 1920.5,254.9 1922.0,261.2 1923.5,284.6 1925.0,258.5 1926.5,259.1 1928.0,265.6 1929.5,253.7 1930.9,257.2 1932.4,257.1 1933.9,260.9 1935.4,265.5 1936.9,257.6 1937.6,274.6 2035.7,274.6" fill="none" stroke="#3b8ed4" stroke-width="2.4" stroke-linejoin="round"/>
<path d="M2141.3 111.8 V424.4 H2528.4" fill="none" stroke="#151515" stroke-width="2.39"/>
<g stroke="#151515" stroke-width="2.18">
<line x1="2141.3" y1="413.2" x2="2134.9" y2="413.2"/>
<line x1="2141.3" y1="392.5" x2="2134.9" y2="392.5"/>
<line x1="2141.3" y1="371.8" x2="2134.9" y2="371.8"/>
<line x1="2141.3" y1="351.0" x2="2134.9" y2="351.0"/>
<line x1="2141.3" y1="330.2" x2="2134.9" y2="330.2"/>
<line x1="2141.3" y1="309.5" x2="2134.9" y2="309.5"/>
<line x1="2141.3" y1="288.8" x2="2134.9" y2="288.8"/>
<line x1="2141.3" y1="268.0" x2="2134.9" y2="268.0"/>
<line x1="2141.3" y1="247.2" x2="2134.9" y2="247.2"/>
<line x1="2141.3" y1="226.5" x2="2134.9" y2="226.5"/>
<line x1="2141.3" y1="205.8" x2="2134.9" y2="205.8"/>
<line x1="2141.3" y1="185.0" x2="2134.9" y2="185.0"/>
<line x1="2141.3" y1="164.2" x2="2134.9" y2="164.2"/>
<line x1="2141.3" y1="143.5" x2="2134.9" y2="143.5"/>
<line x1="2141.3" y1="122.8" x2="2134.9" y2="122.8"/>
<line x1="2141.3" y1="424.4" x2="2141.3" y2="431.3"/>
<line x1="2196.6" y1="424.4" x2="2196.6" y2="431.3"/>
<line x1="2251.9" y1="424.4" x2="2251.9" y2="431.3"/>
<line x1="2307.2" y1="424.4" x2="2307.2" y2="431.3"/>
<line x1="2362.5" y1="424.4" x2="2362.5" y2="431.3"/>
<line x1="2417.8" y1="424.4" x2="2417.8" y2="431.3"/>
<line x1="2473.1" y1="424.4" x2="2473.1" y2="431.3"/>
<line x1="2528.4" y1="424.4" x2="2528.4" y2="431.3"/>
</g>
<text x="2128.8" y="420.8" font-family='"Liberation Sans", sans-serif' font-size="22.0" font-weight="bold" text-anchor="end" fill="#151515" stroke="#151515" stroke-width="0.35">-1.4</text>
<text x="2128.8" y="400.1" font-family='"Liberation Sans", sans-serif' font-size="22.0" font-weight="bold" text-anchor="end" fill="#151515" stroke="#151515" stroke-width="0.35">-1.2</text>
<text x="2128.8" y="379.3" font-family='"Liberation Sans", sans-serif' font-size="22.0" font-weight="bold" text-anchor="end" fill="#151515" stroke="#151515" stroke-width="0.35">-1.0</text>
<text x="2128.8" y="358.6" font-family='"Liberation Sans", sans-serif' font-size="22.0" font-weight="bold" text-anchor="end" fill="#151515" stroke="#151515" stroke-width="0.35">-0.8</text>
<text x="2128.8" y="337.8" font-family='"Liberation Sans", sans-serif' font-size="22.0" font-weight="bold" text-anchor="end" fill="#151515" stroke="#151515" stroke-width="0.35">-0.6</text>
<text x="2128.8" y="317.1" font-family='"Liberation Sans", sans-serif' font-size="22.0" font-weight="bold" text-anchor="end" fill="#151515" stroke="#151515" stroke-width="0.35">-0.4</text>
<text x="2128.8" y="296.3" font-family='"Liberation Sans", sans-serif' font-size="22.0" font-weight="bold" text-anchor="end" fill="#151515" stroke="#151515" stroke-width="0.35">-0.2</text>
<text x="2128.8" y="275.6" font-family='"Liberation Sans", sans-serif' font-size="22.0" font-weight="bold" text-anchor="end" fill="#151515" stroke="#151515" stroke-width="0.35">0.0</text>
<text x="2128.8" y="254.8" font-family='"Liberation Sans", sans-serif' font-size="22.0" font-weight="bold" text-anchor="end" fill="#151515" stroke="#151515" stroke-width="0.35">0.2</text>
<text x="2128.8" y="234.1" font-family='"Liberation Sans", sans-serif' font-size="22.0" font-weight="bold" text-anchor="end" fill="#151515" stroke="#151515" stroke-width="0.35">0.4</text>
<text x="2128.8" y="213.3" font-family='"Liberation Sans", sans-serif' font-size="22.0" font-weight="bold" text-anchor="end" fill="#151515" stroke="#151515" stroke-width="0.35">0.6</text>
<text x="2128.8" y="192.6" font-family='"Liberation Sans", sans-serif' font-size="22.0" font-weight="bold" text-anchor="end" fill="#151515" stroke="#151515" stroke-width="0.35">0.8</text>
<text x="2128.8" y="171.8" font-family='"Liberation Sans", sans-serif' font-size="22.0" font-weight="bold" text-anchor="end" fill="#151515" stroke="#151515" stroke-width="0.35">1.0</text>
<text x="2128.8" y="151.1" font-family='"Liberation Sans", sans-serif' font-size="22.0" font-weight="bold" text-anchor="end" fill="#151515" stroke="#151515" stroke-width="0.35">1.2</text>
<text x="2128.8" y="130.3" font-family='"Liberation Sans", sans-serif' font-size="22.0" font-weight="bold" text-anchor="end" fill="#151515" stroke="#151515" stroke-width="0.35">1.4</text>
<text x="2141.3" y="453.0" font-family='"Liberation Sans", sans-serif' font-size="22.4" font-weight="bold" text-anchor="middle" fill="#151515" stroke="#151515" stroke-width="0.35">0</text>
<text x="2196.6" y="453.0" font-family='"Liberation Sans", sans-serif' font-size="22.4" font-weight="bold" text-anchor="middle" fill="#151515" stroke="#151515" stroke-width="0.35">1</text>
<text x="2251.9" y="453.0" font-family='"Liberation Sans", sans-serif' font-size="22.4" font-weight="bold" text-anchor="middle" fill="#151515" stroke="#151515" stroke-width="0.35">2</text>
<text x="2307.2" y="453.0" font-family='"Liberation Sans", sans-serif' font-size="22.4" font-weight="bold" text-anchor="middle" fill="#151515" stroke="#151515" stroke-width="0.35">3</text>
<text x="2362.5" y="453.0" font-family='"Liberation Sans", sans-serif' font-size="22.4" font-weight="bold" text-anchor="middle" fill="#151515" stroke="#151515" stroke-width="0.35">4</text>
<text x="2417.8" y="453.0" font-family='"Liberation Sans", sans-serif' font-size="22.4" font-weight="bold" text-anchor="middle" fill="#151515" stroke="#151515" stroke-width="0.35">5</text>
<text x="2473.1" y="453.0" font-family='"Liberation Sans", sans-serif' font-size="22.4" font-weight="bold" text-anchor="middle" fill="#151515" stroke="#151515" stroke-width="0.35">6</text>
<text x="2528.4" y="453.0" font-family='"Liberation Sans", sans-serif' font-size="22.4" font-weight="bold" text-anchor="middle" fill="#151515" stroke="#151515" stroke-width="0.35">7</text>
<text x="2279" y="475.4" font-family='"Liberation Sans", sans-serif' font-size="22.4" font-weight="bold" fill="#151515" stroke="#151515" stroke-width="0.35" textLength="88.7" lengthAdjust="spacingAndGlyphs">Time (s)</text>
<text x="2251" y="140.7" font-family='"Liberation Sans", sans-serif' font-size="25.5" font-weight="bold" fill="#151515" stroke="#151515" stroke-width="0.35" textLength="193" lengthAdjust="spacingAndGlyphs">p-Si 0.1-1 Ω·cm</text>
<text x="2081.5" y="267" font-family='"Liberation Sans", sans-serif' font-weight="bold" font-size="22.4" fill="#151515" text-anchor="middle" transform="rotate(-90 2081.5 267)"><tspan font-style="italic">V</tspan><tspan font-size="15.1" dy="4.2">OC</tspan><tspan dy="-4.2"> (V)</tspan></text>
<polyline points="2141.3,268.0 2213.2,268.0 2215.4,245.2 2217.1,249.3 2218.7,221.3 2220.9,247.2 2223.1,228.6 2225.4,236.9 2227.6,200.3 2229.2,212.7 2230.9,221.1 2232.3,205.6 2233.9,193.7 2235.6,206.2 2237.2,231.9 2238.6,216.4 2240.3,186.9 2241.9,199.4 2243.6,225.2 2245.0,209.6 2246.6,198.8 2248.3,211.2 2250.0,236.8 2251.3,221.2 2253.0,191.5 2254.7,204.0 2256.3,235.3 2257.7,219.7 2259.4,198.9 2261.0,211.3 2262.7,250.2 2264.1,234.7 2265.7,183.0 2267.4,195.4 2269.0,220.0 2270.4,204.5 2272.1,190.9 2273.7,203.3 2275.4,236.1 2276.8,220.5 2278.4,193.4 2280.1,205.8 2281.8,234.2 2283.1,218.7 2284.8,196.0 2286.5,208.5 2288.1,233.3 2289.5,217.8 2291.2,201.1 2292.8,213.5 2294.5,215.7 2295.9,200.1 2297.5,192.2 2299.2,204.7 2300.8,229.0 2302.2,213.5 2303.9,199.8 2305.5,212.2 2307.2,236.0 2308.6,220.5 2310.2,247.2 2311.9,211.3 2313.6,219.1 2314.9,167.4 2316.6,183.6 2318.3,196.0 2319.9,216.5 2321.3,200.9 2323.0,187.8 2324.6,200.3 2326.3,223.6 2327.7,208.1 2329.3,201.1 2331.0,245.2 2332.6,245.2 2334.0,210.4 2335.7,199.5 2337.3,212.0 2339.0,215.8 2340.4,200.2 2342.0,195.2 2343.7,207.6 2345.4,245.2 2346.7,245.2 2348.4,195.7 2350.1,208.1 2351.7,214.2 2353.1,198.6 2354.8,203.1 2356.4,215.6 2358.1,234.7 2359.5,219.2 2361.1,183.1 2362.8,195.5 2364.4,225.6 2365.8,210.0 2367.5,192.3 2369.1,204.7 2370.8,219.8 2372.2,204.2 2373.8,191.0 2375.5,203.5 2377.2,224.2 2378.5,208.6 2380.2,199.9 2381.9,212.4 2383.5,233.0 2384.9,217.4 2386.6,184.4 2388.2,196.9 2389.9,229.0 2391.3,213.4 2392.9,197.3 2394.6,209.8 2396.2,253.2 2397.6,237.6 2399.3,186.8 2400.9,199.2 2402.6,219.1 2404.0,203.6 2405.6,189.5 2407.3,201.9 2409.0,221.4 2410.3,205.9 2412.0,183.8 2413.7,196.2 2415.3,227.6 2416.7,212.0 2418.4,183.7 2420.0,196.2 2421.7,177.7 2423.1,207.8 2424.7,193.5 2426.4,205.9 2428.0,228.3 2429.4,212.7 2431.1,185.5 2432.7,197.9 2434.4,251.8 2435.8,236.3 2437.4,187.0 2439.1,199.4 2440.7,219.2 2442.1,203.6 2443.8,186.3 2445.5,198.8 2447.1,235.7 2448.5,220.1 2447.7,193.3 2449.9,247.2 2451.0,216.1 2453.2,252.4 2456.5,268.0 2528.4,268.0" fill="none" stroke="#3b8ed4" stroke-width="2.5" stroke-linejoin="round"/>
<path d="M2626.6 107.6 V416.9 H3010.0" fill="none" stroke="#151515" stroke-width="2.39"/>
<g stroke="#151515" stroke-width="2.18">
<line x1="2626.6" y1="406.7" x2="2620.2" y2="406.7"/>
<line x1="2626.6" y1="386.0" x2="2620.2" y2="386.0"/>
<line x1="2626.6" y1="365.3" x2="2620.2" y2="365.3"/>
<line x1="2626.6" y1="344.6" x2="2620.2" y2="344.6"/>
<line x1="2626.6" y1="323.9" x2="2620.2" y2="323.9"/>
<line x1="2626.6" y1="303.2" x2="2620.2" y2="303.2"/>
<line x1="2626.6" y1="282.5" x2="2620.2" y2="282.5"/>
<line x1="2626.6" y1="261.8" x2="2620.2" y2="261.8"/>
<line x1="2626.6" y1="241.1" x2="2620.2" y2="241.1"/>
<line x1="2626.6" y1="220.4" x2="2620.2" y2="220.4"/>
<line x1="2626.6" y1="199.7" x2="2620.2" y2="199.7"/>
<line x1="2626.6" y1="179.0" x2="2620.2" y2="179.0"/>
<line x1="2626.6" y1="158.3" x2="2620.2" y2="158.3"/>
<line x1="2626.6" y1="137.6" x2="2620.2" y2="137.6"/>
<line x1="2626.6" y1="116.9" x2="2620.2" y2="116.9"/>
<line x1="2626.6" y1="416.9" x2="2626.6" y2="423.8"/>
<line x1="2669.2" y1="416.9" x2="2669.2" y2="423.8"/>
<line x1="2711.8" y1="416.9" x2="2711.8" y2="423.8"/>
<line x1="2754.4" y1="416.9" x2="2754.4" y2="423.8"/>
<line x1="2797.0" y1="416.9" x2="2797.0" y2="423.8"/>
<line x1="2839.6" y1="416.9" x2="2839.6" y2="423.8"/>
<line x1="2882.2" y1="416.9" x2="2882.2" y2="423.8"/>
<line x1="2924.8" y1="416.9" x2="2924.8" y2="423.8"/>
<line x1="2967.4" y1="416.9" x2="2967.4" y2="423.8"/>
<line x1="3010.0" y1="416.9" x2="3010.0" y2="423.8"/>
</g>
<text x="2614.1" y="414.3" font-family='"Liberation Sans", sans-serif' font-size="22.0" font-weight="bold" text-anchor="end" fill="#151515" stroke="#151515" stroke-width="0.35">-1.4</text>
<text x="2614.1" y="393.6" font-family='"Liberation Sans", sans-serif' font-size="22.0" font-weight="bold" text-anchor="end" fill="#151515" stroke="#151515" stroke-width="0.35">-1.2</text>
<text x="2614.1" y="372.9" font-family='"Liberation Sans", sans-serif' font-size="22.0" font-weight="bold" text-anchor="end" fill="#151515" stroke="#151515" stroke-width="0.35">-1.0</text>
<text x="2614.1" y="352.2" font-family='"Liberation Sans", sans-serif' font-size="22.0" font-weight="bold" text-anchor="end" fill="#151515" stroke="#151515" stroke-width="0.35">-0.8</text>
<text x="2614.1" y="331.5" font-family='"Liberation Sans", sans-serif' font-size="22.0" font-weight="bold" text-anchor="end" fill="#151515" stroke="#151515" stroke-width="0.35">-0.6</text>
<text x="2614.1" y="310.8" font-family='"Liberation Sans", sans-serif' font-size="22.0" font-weight="bold" text-anchor="end" fill="#151515" stroke="#151515" stroke-width="0.35">-0.4</text>
<text x="2614.1" y="290.1" font-family='"Liberation Sans", sans-serif' font-size="22.0" font-weight="bold" text-anchor="end" fill="#151515" stroke="#151515" stroke-width="0.35">-0.2</text>
<text x="2614.1" y="269.4" font-family='"Liberation Sans", sans-serif' font-size="22.0" font-weight="bold" text-anchor="end" fill="#151515" stroke="#151515" stroke-width="0.35">0.0</text>
<text x="2614.1" y="248.7" font-family='"Liberation Sans", sans-serif' font-size="22.0" font-weight="bold" text-anchor="end" fill="#151515" stroke="#151515" stroke-width="0.35">0.2</text>
<text x="2614.1" y="228.0" font-family='"Liberation Sans", sans-serif' font-size="22.0" font-weight="bold" text-anchor="end" fill="#151515" stroke="#151515" stroke-width="0.35">0.4</text>
<text x="2614.1" y="207.3" font-family='"Liberation Sans", sans-serif' font-size="22.0" font-weight="bold" text-anchor="end" fill="#151515" stroke="#151515" stroke-width="0.35">0.6</text>
<text x="2614.1" y="186.6" font-family='"Liberation Sans", sans-serif' font-size="22.0" font-weight="bold" text-anchor="end" fill="#151515" stroke="#151515" stroke-width="0.35">0.8</text>
<text x="2614.1" y="165.9" font-family='"Liberation Sans", sans-serif' font-size="22.0" font-weight="bold" text-anchor="end" fill="#151515" stroke="#151515" stroke-width="0.35">1.0</text>
<text x="2614.1" y="145.2" font-family='"Liberation Sans", sans-serif' font-size="22.0" font-weight="bold" text-anchor="end" fill="#151515" stroke="#151515" stroke-width="0.35">1.2</text>
<text x="2614.1" y="124.5" font-family='"Liberation Sans", sans-serif' font-size="22.0" font-weight="bold" text-anchor="end" fill="#151515" stroke="#151515" stroke-width="0.35">1.4</text>
<text x="2626.6" y="445.5" font-family='"Liberation Sans", sans-serif' font-size="22.4" font-weight="bold" text-anchor="middle" fill="#151515" stroke="#151515" stroke-width="0.35">0</text>
<text x="2669.2" y="445.5" font-family='"Liberation Sans", sans-serif' font-size="22.4" font-weight="bold" text-anchor="middle" fill="#151515" stroke="#151515" stroke-width="0.35">1</text>
<text x="2711.8" y="445.5" font-family='"Liberation Sans", sans-serif' font-size="22.4" font-weight="bold" text-anchor="middle" fill="#151515" stroke="#151515" stroke-width="0.35">2</text>
<text x="2754.4" y="445.5" font-family='"Liberation Sans", sans-serif' font-size="22.4" font-weight="bold" text-anchor="middle" fill="#151515" stroke="#151515" stroke-width="0.35">3</text>
<text x="2797.0" y="445.5" font-family='"Liberation Sans", sans-serif' font-size="22.4" font-weight="bold" text-anchor="middle" fill="#151515" stroke="#151515" stroke-width="0.35">4</text>
<text x="2839.6" y="445.5" font-family='"Liberation Sans", sans-serif' font-size="22.4" font-weight="bold" text-anchor="middle" fill="#151515" stroke="#151515" stroke-width="0.35">5</text>
<text x="2882.2" y="445.5" font-family='"Liberation Sans", sans-serif' font-size="22.4" font-weight="bold" text-anchor="middle" fill="#151515" stroke="#151515" stroke-width="0.35">6</text>
<text x="2924.8" y="445.5" font-family='"Liberation Sans", sans-serif' font-size="22.4" font-weight="bold" text-anchor="middle" fill="#151515" stroke="#151515" stroke-width="0.35">7</text>
<text x="2967.4" y="445.5" font-family='"Liberation Sans", sans-serif' font-size="22.4" font-weight="bold" text-anchor="middle" fill="#151515" stroke="#151515" stroke-width="0.35">8</text>
<text x="3010.0" y="445.5" font-family='"Liberation Sans", sans-serif' font-size="22.4" font-weight="bold" text-anchor="middle" fill="#151515" stroke="#151515" stroke-width="0.35">9</text>
<text x="2769.8" y="472.5" font-family='"Liberation Sans", sans-serif' font-size="22.4" font-weight="bold" fill="#151515" stroke="#151515" stroke-width="0.35" textLength="87.1" lengthAdjust="spacingAndGlyphs">Time (s)</text>
<text x="2735" y="136.5" font-family='"Liberation Sans", sans-serif' font-size="25.5" font-weight="bold" fill="#151515" stroke="#151515" stroke-width="0.35" textLength="183.5" lengthAdjust="spacingAndGlyphs">p-Si 1-10 Ω·cm</text>
<text x="2566.5" y="261" font-family='"Liberation Sans", sans-serif' font-weight="bold" font-size="22.4" fill="#151515" text-anchor="middle" transform="rotate(-90 2566.5 261)"><tspan font-style="italic">V</tspan><tspan font-size="15.1" dy="4.2">OC</tspan><tspan dy="-4.2"> (V)</tspan></text>
<polyline points="2626.6,261.8 2728.0,261.8 2729.7,241.1 2733.1,233.9 2735.7,218.3 2737.4,241.1 2739.1,225.6 2740.8,195.3 2742.3,208.8 2744.0,242.4 2745.4,221.7 2746.8,180.0 2748.3,196.4 2750.0,241.5 2751.4,220.8 2752.9,190.3 2754.4,206.4 2756.1,165.5 2757.5,199.7 2758.9,178.7 2760.4,194.9 2762.1,223.7 2763.5,203.0 2765.0,183.4 2766.5,196.7 2768.2,231.0 2769.6,210.3 2771.0,172.9 2772.5,190.3 2774.2,243.1 2775.6,222.4 2777.1,174.2 2778.6,189.7 2780.3,232.5 2781.7,211.8 2783.1,188.0 2784.6,195.7 2786.3,233.8 2787.7,213.1 2789.2,190.8 2790.7,202.3 2792.4,238.9 2793.8,218.2 2795.2,272.2 2796.7,192.0 2798.4,213.7 2799.8,193.0 2801.3,187.5 2802.8,196.4 2804.5,239.3 2805.9,218.6 2807.3,173.0 2808.8,183.0 2810.5,245.2 2811.9,224.5 2813.4,175.8 2814.8,191.1 2816.6,224.0 2818.0,203.3 2819.4,177.4 2820.9,193.0 2822.6,271.1 2824.0,200.6 2825.5,181.0 2826.9,198.1 2828.7,238.8 2830.1,218.1 2831.5,263.9 2833.0,201.4 2834.7,234.9 2836.1,214.2 2837.6,180.8 2839.0,188.5 2840.8,217.7 2842.2,197.0 2843.6,173.3 2845.1,182.7 2846.8,212.3 2848.2,191.6 2849.7,188.6 2851.1,199.7 2852.8,240.3 2854.3,219.6 2855.7,183.1 2857.2,199.8 2858.9,223.2 2860.3,202.5 2861.8,191.2 2863.2,202.5 2864.9,214.8 2866.4,194.1 2867.8,179.7 2869.3,193.2 2871.0,243.0 2872.4,222.3 2873.9,174.8 2875.3,182.2 2877.0,224.1 2878.5,203.4 2879.9,191.1 2881.4,200.4 2883.1,230.7 2884.5,210.0 2885.9,185.4 2887.4,197.2 2889.1,219.3 2890.5,198.6 2892.0,192.9 2893.5,200.3 2895.2,242.9 2896.6,222.2 2898.0,192.8 2899.5,207.0 2901.2,239.6 2902.6,218.9 2904.1,179.3 2905.6,192.0 2907.3,217.1 2908.7,196.4 2910.1,184.2 2911.6,198.9 2913.3,219.3 2914.7,198.6 2916.2,187.1 2917.7,198.1 2919.4,225.3 2920.8,204.6 2917.1,199.7 2918.8,225.6 2920.5,230.8 2922.2,261.8 3010.0,261.8" fill="none" stroke="#3b8ed4" stroke-width="2.5" stroke-linejoin="round"/>
<path d="M1671 487 V783.5 H2039.1" fill="none" stroke="#151515" stroke-width="2.30"/>
<g stroke="#151515" stroke-width="2.10">
<line x1="1671" y1="773.0" x2="1664.8" y2="773.0"/>
<line x1="1671" y1="753.3" x2="1664.8" y2="753.3"/>
<line x1="1671" y1="733.5" x2="1664.8" y2="733.5"/>
<line x1="1671" y1="713.8" x2="1664.8" y2="713.8"/>
<line x1="1671" y1="694.0" x2="1664.8" y2="694.0"/>
<line x1="1671" y1="674.3" x2="1664.8" y2="674.3"/>
<line x1="1671" y1="654.5" x2="1664.8" y2="654.5"/>
<line x1="1671" y1="634.8" x2="1664.8" y2="634.8"/>
<line x1="1671" y1="615.0" x2="1664.8" y2="615.0"/>
<line x1="1671" y1="595.3" x2="1664.8" y2="595.3"/>
<line x1="1671" y1="575.5" x2="1664.8" y2="575.5"/>
<line x1="1671" y1="555.8" x2="1664.8" y2="555.8"/>
<line x1="1671" y1="536.0" x2="1664.8" y2="536.0"/>
<line x1="1671" y1="516.3" x2="1664.8" y2="516.3"/>
<line x1="1671" y1="496.5" x2="1664.8" y2="496.5"/>
<line x1="1671.0" y1="783.5" x2="1671.0" y2="790.1"/>
<line x1="1695.5" y1="783.5" x2="1695.5" y2="787.4"/>
<line x1="1720.1" y1="783.5" x2="1720.1" y2="790.1"/>
<line x1="1744.6" y1="783.5" x2="1744.6" y2="787.4"/>
<line x1="1769.2" y1="783.5" x2="1769.2" y2="790.1"/>
<line x1="1793.7" y1="783.5" x2="1793.7" y2="787.4"/>
<line x1="1818.2" y1="783.5" x2="1818.2" y2="790.1"/>
<line x1="1842.8" y1="783.5" x2="1842.8" y2="787.4"/>
<line x1="1867.3" y1="783.5" x2="1867.3" y2="790.1"/>
<line x1="1891.9" y1="783.5" x2="1891.9" y2="787.4"/>
<line x1="1916.4" y1="783.5" x2="1916.4" y2="790.1"/>
<line x1="1940.9" y1="783.5" x2="1940.9" y2="787.4"/>
<line x1="1965.5" y1="783.5" x2="1965.5" y2="790.1"/>
<line x1="1990.0" y1="783.5" x2="1990.0" y2="787.4"/>
<line x1="2014.6" y1="783.5" x2="2014.6" y2="790.1"/>
<line x1="2039.1" y1="783.5" x2="2039.1" y2="787.4"/>
</g>
<text x="1659.0" y="780.3" font-family='"Liberation Sans", sans-serif' font-size="21.2" font-weight="bold" text-anchor="end" fill="#151515" stroke="#151515" stroke-width="0.35">-1.4</text>
<text x="1659.0" y="760.6" font-family='"Liberation Sans", sans-serif' font-size="21.2" font-weight="bold" text-anchor="end" fill="#151515" stroke="#151515" stroke-width="0.35">-1.2</text>
<text x="1659.0" y="740.8" font-family='"Liberation Sans", sans-serif' font-size="21.2" font-weight="bold" text-anchor="end" fill="#151515" stroke="#151515" stroke-width="0.35">-1.0</text>
<text x="1659.0" y="721.1" font-family='"Liberation Sans", sans-serif' font-size="21.2" font-weight="bold" text-anchor="end" fill="#151515" stroke="#151515" stroke-width="0.35">-0.8</text>
<text x="1659.0" y="701.3" font-family='"Liberation Sans", sans-serif' font-size="21.2" font-weight="bold" text-anchor="end" fill="#151515" stroke="#151515" stroke-width="0.35">-0.6</text>
<text x="1659.0" y="681.6" font-family='"Liberation Sans", sans-serif' font-size="21.2" font-weight="bold" text-anchor="end" fill="#151515" stroke="#151515" stroke-width="0.35">-0.4</text>
<text x="1659.0" y="661.8" font-family='"Liberation Sans", sans-serif' font-size="21.2" font-weight="bold" text-anchor="end" fill="#151515" stroke="#151515" stroke-width="0.35">-0.2</text>
<text x="1659.0" y="642.1" font-family='"Liberation Sans", sans-serif' font-size="21.2" font-weight="bold" text-anchor="end" fill="#151515" stroke="#151515" stroke-width="0.35">0.0</text>
<text x="1659.0" y="622.3" font-family='"Liberation Sans", sans-serif' font-size="21.2" font-weight="bold" text-anchor="end" fill="#151515" stroke="#151515" stroke-width="0.35">0.2</text>
<text x="1659.0" y="602.6" font-family='"Liberation Sans", sans-serif' font-size="21.2" font-weight="bold" text-anchor="end" fill="#151515" stroke="#151515" stroke-width="0.35">0.4</text>
<text x="1659.0" y="582.8" font-family='"Liberation Sans", sans-serif' font-size="21.2" font-weight="bold" text-anchor="end" fill="#151515" stroke="#151515" stroke-width="0.35">0.6</text>
<text x="1659.0" y="563.1" font-family='"Liberation Sans", sans-serif' font-size="21.2" font-weight="bold" text-anchor="end" fill="#151515" stroke="#151515" stroke-width="0.35">0.8</text>
<text x="1659.0" y="543.3" font-family='"Liberation Sans", sans-serif' font-size="21.2" font-weight="bold" text-anchor="end" fill="#151515" stroke="#151515" stroke-width="0.35">1.0</text>
<text x="1659.0" y="523.6" font-family='"Liberation Sans", sans-serif' font-size="21.2" font-weight="bold" text-anchor="end" fill="#151515" stroke="#151515" stroke-width="0.35">1.2</text>
<text x="1659.0" y="503.8" font-family='"Liberation Sans", sans-serif' font-size="21.2" font-weight="bold" text-anchor="end" fill="#151515" stroke="#151515" stroke-width="0.35">1.4</text>
<text x="1671.0" y="811.0" font-family='"Liberation Sans", sans-serif' font-size="21.5" font-weight="bold" text-anchor="middle" fill="#151515" stroke="#151515" stroke-width="0.35">0</text>
<text x="1720.1" y="811.0" font-family='"Liberation Sans", sans-serif' font-size="21.5" font-weight="bold" text-anchor="middle" fill="#151515" stroke="#151515" stroke-width="0.35">2</text>
<text x="1769.2" y="811.0" font-family='"Liberation Sans", sans-serif' font-size="21.5" font-weight="bold" text-anchor="middle" fill="#151515" stroke="#151515" stroke-width="0.35">4</text>
<text x="1818.2" y="811.0" font-family='"Liberation Sans", sans-serif' font-size="21.5" font-weight="bold" text-anchor="middle" fill="#151515" stroke="#151515" stroke-width="0.35">6</text>
<text x="1867.3" y="811.0" font-family='"Liberation Sans", sans-serif' font-size="21.5" font-weight="bold" text-anchor="middle" fill="#151515" stroke="#151515" stroke-width="0.35">8</text>
<text x="1916.4" y="811.0" font-family='"Liberation Sans", sans-serif' font-size="21.5" font-weight="bold" text-anchor="middle" fill="#151515" stroke="#151515" stroke-width="0.35">10</text>
<text x="1965.5" y="811.0" font-family='"Liberation Sans", sans-serif' font-size="21.5" font-weight="bold" text-anchor="middle" fill="#151515" stroke="#151515" stroke-width="0.35">12</text>
<text x="2014.6" y="811.0" font-family='"Liberation Sans", sans-serif' font-size="21.5" font-weight="bold" text-anchor="middle" fill="#151515" stroke="#151515" stroke-width="0.35">14</text>
<text x="1808" y="831.7" font-family='"Liberation Sans", sans-serif' font-size="21.5" font-weight="bold" fill="#151515" stroke="#151515" stroke-width="0.35" textLength="83" lengthAdjust="spacingAndGlyphs">Time (s)</text>
<text x="1769.5" y="525.6" font-family='"Liberation Sans", sans-serif' font-size="24.5" font-weight="bold" fill="#151515" stroke="#151515" stroke-width="0.35" textLength="200.5" lengthAdjust="spacingAndGlyphs">p-Si 10-20 Ω·cm</text>
<text x="1611.5" y="634.7" font-family='"Liberation Sans", sans-serif' font-weight="bold" font-size="21.5" fill="#151515" text-anchor="middle" transform="rotate(-90 1611.5 634.7)"><tspan font-style="italic">V</tspan><tspan font-size="14.5" dy="4.0">OC</tspan><tspan dy="-4.0"> (V)</tspan></text>
<polyline points="1671.0,634.8 1705.4,634.8 1707.8,633.6 1711.5,635.8 1715.2,634.8 1771.6,634.8 1774.1,637.8 1776.0,659.5 1777.5,663.1 1778.6,666.1 1779.8,660.4 1780.9,660.7 1782.0,658.3 1783.1,657.6 1784.3,656.8 1785.4,666.2 1786.5,676.3 1787.7,659.3 1788.8,667.6 1789.9,667.9 1791.0,656.7 1792.2,671.3 1793.3,666.6 1794.4,666.7 1795.6,658.9 1796.7,667.6 1797.8,659.8 1799.0,656.0 1800.1,646.8 1801.2,656.5 1802.3,652.9 1803.5,651.7 1804.6,658.2 1805.7,652.2 1806.9,652.6 1808.0,651.0 1809.1,649.4 1810.2,666.5 1811.4,658.0 1812.5,646.4 1813.6,664.4 1814.8,664.4 1815.9,649.4 1817.0,650.1 1818.1,646.8 1819.3,655.2 1820.4,648.4 1821.5,652.8 1822.7,645.1 1823.8,655.6 1824.9,654.7 1826.0,654.0 1827.2,653.2 1828.3,648.1 1829.4,655.5 1830.6,658.1 1831.7,659.2 1832.8,655.2 1833.9,656.4 1835.1,655.3 1836.2,656.9 1837.3,650.2 1838.5,650.9 1839.6,645.1 1840.7,657.0 1841.8,650.3 1843.0,649.7 1844.1,649.5 1845.2,648.4 1846.4,657.5 1847.5,650.3 1848.6,649.1 1849.7,646.0 1850.9,656.4 1852.0,650.0 1853.1,646.5 1854.3,650.4 1855.4,647.5 1856.5,655.2 1857.7,650.3 1858.8,656.0 1859.9,657.5 1861.0,645.5 1862.2,657.7 1863.3,648.6 1864.4,658.1 1865.6,668.4 1866.7,668.4 1867.8,656.1 1868.9,655.4 1870.1,651.4 1871.2,649.4 1872.3,658.1 1873.5,664.6 1874.6,647.9 1875.7,653.2 1876.8,651.2 1878.0,649.0 1879.1,650.6 1880.2,655.9 1881.4,651.8 1882.5,647.4 1883.6,652.4 1884.7,657.0 1885.9,657.6 1887.0,644.7 1888.1,648.1 1889.3,657.4 1890.4,653.4 1891.5,646.6 1892.6,666.2 1893.8,646.8 1894.9,646.0 1896.0,646.9 1897.2,646.0 1898.3,646.4 1899.4,646.1 1900.5,645.2 1901.7,646.8 1902.8,656.2 1903.9,651.2 1905.1,655.0 1906.2,654.7 1907.3,655.1 1908.4,651.3 1909.6,654.6 1910.7,664.6 1911.8,644.7 1913.0,645.0 1914.1,649.5 1915.2,652.8 1916.4,671.3 1917.5,648.5 1918.6,662.6 1919.7,645.2 1920.9,644.9 1922.0,662.1 1923.1,646.1 1924.3,647.3 1925.4,657.7 1926.5,650.7 1927.6,664.6 1928.8,659.8 1929.9,646.0 1931.0,653.2 1932.2,645.3 1933.3,651.3 1934.4,654.5 1935.5,654.8 1936.7,651.4 1937.8,656.9 1938.9,654.8 1940.1,645.3 1941.2,650.5 1942.3,661.5 1943.4,645.6 1944.6,657.2 1945.7,639.4 1946.8,639.5 1948.0,646.2 1949.1,665.4 1950.2,652.8 1951.3,653.7 1952.5,666.3 1953.6,654.5 1954.7,645.4 1955.9,649.4 1957.0,648.6 1958.1,653.9 1959.2,646.1 1960.4,649.2 1961.5,644.4 1962.6,657.1 1963.8,650.8 1964.9,652.4 1966.0,646.9 1967.1,642.7 1968.3,653.0 1969.4,648.4 1970.5,643.2 1971.7,627.9 1972.8,627.9 1973.9,652.0 1975.1,649.2 1976.2,647.9 1977.3,651.9 1978.4,657.8 1979.6,643.4 1980.7,653.5 1981.8,649.1 1983.0,651.6 1984.1,652.5 1985.2,642.8 1986.3,648.7 1987.5,644.8 1988.6,661.0 1989.5,647.6 1991.5,634.8 2039.1,634.8" fill="none" stroke="#3b8ed4" stroke-width="2.4" stroke-linejoin="round"/>
<path d="M2151.6 484 V781.4 H2520.6" fill="none" stroke="#151515" stroke-width="2.30"/>
<g stroke="#151515" stroke-width="2.10">
<line x1="2151.6" y1="770.6" x2="2145.4" y2="770.6"/>
<line x1="2151.6" y1="750.9" x2="2145.4" y2="750.9"/>
<line x1="2151.6" y1="731.2" x2="2145.4" y2="731.2"/>
<line x1="2151.6" y1="711.5" x2="2145.4" y2="711.5"/>
<line x1="2151.6" y1="691.8" x2="2145.4" y2="691.8"/>
<line x1="2151.6" y1="672.1" x2="2145.4" y2="672.1"/>
<line x1="2151.6" y1="652.4" x2="2145.4" y2="652.4"/>
<line x1="2151.6" y1="632.7" x2="2145.4" y2="632.7"/>
<line x1="2151.6" y1="613.0" x2="2145.4" y2="613.0"/>
<line x1="2151.6" y1="593.3" x2="2145.4" y2="593.3"/>
<line x1="2151.6" y1="573.6" x2="2145.4" y2="573.6"/>
<line x1="2151.6" y1="553.9" x2="2145.4" y2="553.9"/>
<line x1="2151.6" y1="534.2" x2="2145.4" y2="534.2"/>
<line x1="2151.6" y1="514.5" x2="2145.4" y2="514.5"/>
<line x1="2151.6" y1="494.8" x2="2145.4" y2="494.8"/>
<line x1="2151.6" y1="781.4" x2="2151.6" y2="788.0"/>
<line x1="2188.5" y1="781.4" x2="2188.5" y2="788.0"/>
<line x1="2225.4" y1="781.4" x2="2225.4" y2="788.0"/>
<line x1="2262.3" y1="781.4" x2="2262.3" y2="788.0"/>
<line x1="2299.2" y1="781.4" x2="2299.2" y2="788.0"/>
<line x1="2336.1" y1="781.4" x2="2336.1" y2="788.0"/>
<line x1="2373.0" y1="781.4" x2="2373.0" y2="788.0"/>
<line x1="2409.9" y1="781.4" x2="2409.9" y2="788.0"/>
<line x1="2446.8" y1="781.4" x2="2446.8" y2="788.0"/>
<line x1="2483.7" y1="781.4" x2="2483.7" y2="788.0"/>
<line x1="2520.6" y1="781.4" x2="2520.6" y2="788.0"/>
</g>
<text x="2139.6" y="777.9" font-family='"Liberation Sans", sans-serif' font-size="21.2" font-weight="bold" text-anchor="end" fill="#151515" stroke="#151515" stroke-width="0.35">-1.4</text>
<text x="2139.6" y="758.2" font-family='"Liberation Sans", sans-serif' font-size="21.2" font-weight="bold" text-anchor="end" fill="#151515" stroke="#151515" stroke-width="0.35">-1.2</text>
<text x="2139.6" y="738.5" font-family='"Liberation Sans", sans-serif' font-size="21.2" font-weight="bold" text-anchor="end" fill="#151515" stroke="#151515" stroke-width="0.35">-1.0</text>
<text x="2139.6" y="718.8" font-family='"Liberation Sans", sans-serif' font-size="21.2" font-weight="bold" text-anchor="end" fill="#151515" stroke="#151515" stroke-width="0.35">-0.8</text>
<text x="2139.6" y="699.1" font-family='"Liberation Sans", sans-serif' font-size="21.2" font-weight="bold" text-anchor="end" fill="#151515" stroke="#151515" stroke-width="0.35">-0.6</text>
<text x="2139.6" y="679.4" font-family='"Liberation Sans", sans-serif' font-size="21.2" font-weight="bold" text-anchor="end" fill="#151515" stroke="#151515" stroke-width="0.35">-0.4</text>
<text x="2139.6" y="659.7" font-family='"Liberation Sans", sans-serif' font-size="21.2" font-weight="bold" text-anchor="end" fill="#151515" stroke="#151515" stroke-width="0.35">-0.2</text>
<text x="2139.6" y="640.0" font-family='"Liberation Sans", sans-serif' font-size="21.2" font-weight="bold" text-anchor="end" fill="#151515" stroke="#151515" stroke-width="0.35">0.0</text>
<text x="2139.6" y="620.3" font-family='"Liberation Sans", sans-serif' font-size="21.2" font-weight="bold" text-anchor="end" fill="#151515" stroke="#151515" stroke-width="0.35">0.2</text>
<text x="2139.6" y="600.6" font-family='"Liberation Sans", sans-serif' font-size="21.2" font-weight="bold" text-anchor="end" fill="#151515" stroke="#151515" stroke-width="0.35">0.4</text>
<text x="2139.6" y="580.9" font-family='"Liberation Sans", sans-serif' font-size="21.2" font-weight="bold" text-anchor="end" fill="#151515" stroke="#151515" stroke-width="0.35">0.6</text>
<text x="2139.6" y="561.2" font-family='"Liberation Sans", sans-serif' font-size="21.2" font-weight="bold" text-anchor="end" fill="#151515" stroke="#151515" stroke-width="0.35">0.8</text>
<text x="2139.6" y="541.5" font-family='"Liberation Sans", sans-serif' font-size="21.2" font-weight="bold" text-anchor="end" fill="#151515" stroke="#151515" stroke-width="0.35">1.0</text>
<text x="2139.6" y="521.8" font-family='"Liberation Sans", sans-serif' font-size="21.2" font-weight="bold" text-anchor="end" fill="#151515" stroke="#151515" stroke-width="0.35">1.2</text>
<text x="2139.6" y="502.1" font-family='"Liberation Sans", sans-serif' font-size="21.2" font-weight="bold" text-anchor="end" fill="#151515" stroke="#151515" stroke-width="0.35">1.4</text>
<text x="2151.6" y="808.9" font-family='"Liberation Sans", sans-serif' font-size="21.5" font-weight="bold" text-anchor="middle" fill="#151515" stroke="#151515" stroke-width="0.35">13</text>
<text x="2188.5" y="808.9" font-family='"Liberation Sans", sans-serif' font-size="21.5" font-weight="bold" text-anchor="middle" fill="#151515" stroke="#151515" stroke-width="0.35">14</text>
<text x="2225.4" y="808.9" font-family='"Liberation Sans", sans-serif' font-size="21.5" font-weight="bold" text-anchor="middle" fill="#151515" stroke="#151515" stroke-width="0.35">15</text>
<text x="2262.3" y="808.9" font-family='"Liberation Sans", sans-serif' font-size="21.5" font-weight="bold" text-anchor="middle" fill="#151515" stroke="#151515" stroke-width="0.35">16</text>
<text x="2299.2" y="808.9" font-family='"Liberation Sans", sans-serif' font-size="21.5" font-weight="bold" text-anchor="middle" fill="#151515" stroke="#151515" stroke-width="0.35">17</text>
<text x="2336.1" y="808.9" font-family='"Liberation Sans", sans-serif' font-size="21.5" font-weight="bold" text-anchor="middle" fill="#151515" stroke="#151515" stroke-width="0.35">18</text>
<text x="2373.0" y="808.9" font-family='"Liberation Sans", sans-serif' font-size="21.5" font-weight="bold" text-anchor="middle" fill="#151515" stroke="#151515" stroke-width="0.35">19</text>
<text x="2409.9" y="808.9" font-family='"Liberation Sans", sans-serif' font-size="21.5" font-weight="bold" text-anchor="middle" fill="#151515" stroke="#151515" stroke-width="0.35">20</text>
<text x="2446.8" y="808.9" font-family='"Liberation Sans", sans-serif' font-size="21.5" font-weight="bold" text-anchor="middle" fill="#151515" stroke="#151515" stroke-width="0.35">21</text>
<text x="2483.7" y="808.9" font-family='"Liberation Sans", sans-serif' font-size="21.5" font-weight="bold" text-anchor="middle" fill="#151515" stroke="#151515" stroke-width="0.35">22</text>
<text x="2520.6" y="808.9" font-family='"Liberation Sans", sans-serif' font-size="21.5" font-weight="bold" text-anchor="middle" fill="#151515" stroke="#151515" stroke-width="0.35">23</text>
<text x="2293" y="833.9" font-family='"Liberation Sans", sans-serif' font-size="21.5" font-weight="bold" fill="#151515" stroke="#151515" stroke-width="0.35" textLength="84.5" lengthAdjust="spacingAndGlyphs">Time (s)</text>
<text x="2276" y="530.3" font-family='"Liberation Sans", sans-serif' font-size="24.5" font-weight="bold" fill="#151515" stroke="#151515" stroke-width="0.35" textLength="184.6" lengthAdjust="spacingAndGlyphs">n-Si 1-10 Ω·cm</text>
<text x="2090" y="628" font-family='"Liberation Sans", sans-serif' font-weight="bold" font-size="21.5" fill="#151515" text-anchor="middle" transform="rotate(-90 2090 628)"><tspan font-style="italic">V</tspan><tspan font-size="14.5" dy="4.0">OC</tspan><tspan dy="-4.0"> (V)</tspan></text>
<polyline points="2151.6,634.7 2243.8,634.7 2247.5,637.6 2250.5,633.7 2254.2,635.7 2256.8,634.7 2258.6,662.2 2259.7,706.6 2260.8,695.6 2262.7,731.2 2264.5,696.7 2266.4,657.3 2268.2,693.5 2270.0,747.9 2271.9,672.0 2273.7,720.5 2275.6,669.7 2277.4,729.2 2279.3,736.1 2281.1,725.2 2283.0,679.0 2284.8,716.4 2286.7,666.2 2288.5,716.9 2290.3,665.8 2292.2,729.3 2294.0,693.2 2295.9,711.4 2297.7,679.6 2299.6,727.2 2301.4,693.0 2303.3,709.9 2305.1,689.9 2306.9,712.3 2308.8,681.4 2310.6,711.8 2312.5,692.4 2314.3,711.8 2316.2,688.8 2318.0,713.0 2319.9,688.4 2321.7,714.2 2323.6,744.0 2325.4,713.1 2327.2,683.3 2329.1,713.2 2330.9,687.0 2332.8,703.6 2334.6,681.2 2336.5,735.1 2338.3,696.0 2340.2,707.8 2342.0,690.0 2343.8,704.3 2345.7,681.7 2347.5,702.9 2349.4,682.4 2351.2,709.3 2353.1,693.1 2354.9,706.2 2356.8,688.6 2358.6,702.2 2360.5,683.4 2362.3,709.7 2364.1,679.5 2366.0,711.8 2367.8,681.7 2369.7,713.6 2371.5,733.2 2373.4,707.4 2375.2,683.6 2377.1,704.7 2378.9,678.4 2380.7,709.7 2382.6,677.1 2384.4,707.3 2386.3,688.0 2388.1,699.8 2390.0,685.9 2391.8,701.1 2393.7,677.3 2395.5,699.5 2397.4,671.9 2399.2,693.2 2401.0,672.6 2402.9,697.5 2404.7,679.3 2406.6,702.3 2408.4,680.6 2410.3,693.5 2412.1,670.5 2414.0,696.5 2415.8,661.7 2417.6,694.8 2419.5,662.7 2421.3,689.5 2423.2,669.2 2425.0,686.3 2426.9,665.9 2428.7,690.6 2430.6,662.9 2432.4,656.3 2434.3,668.3 2436.1,699.4 2437.9,676.2 2439.8,694.0 2441.6,664.3 2443.5,695.1 2445.3,666.4 2447.2,691.1 2449.0,691.8 2450.5,660.3 2452.7,633.7 2520.6,633.7" fill="none" stroke="#3b8ed4" stroke-width="2.5" stroke-linejoin="round"/>
<path d="M2629.8 496.5 V792.5 H2994.8" fill="none" stroke="#151515" stroke-width="2.30"/>
<g stroke="#151515" stroke-width="2.10">
<line x1="2629.8" y1="781.6" x2="2623.6" y2="781.6"/>
<line x1="2629.8" y1="761.9" x2="2623.6" y2="761.9"/>
<line x1="2629.8" y1="742.2" x2="2623.6" y2="742.2"/>
<line x1="2629.8" y1="722.5" x2="2623.6" y2="722.5"/>
<line x1="2629.8" y1="702.8" x2="2623.6" y2="702.8"/>
<line x1="2629.8" y1="683.1" x2="2623.6" y2="683.1"/>
<line x1="2629.8" y1="663.4" x2="2623.6" y2="663.4"/>
<line x1="2629.8" y1="643.7" x2="2623.6" y2="643.7"/>
<line x1="2629.8" y1="624.0" x2="2623.6" y2="624.0"/>
<line x1="2629.8" y1="604.3" x2="2623.6" y2="604.3"/>
<line x1="2629.8" y1="584.6" x2="2623.6" y2="584.6"/>
<line x1="2629.8" y1="564.9" x2="2623.6" y2="564.9"/>
<line x1="2629.8" y1="545.2" x2="2623.6" y2="545.2"/>
<line x1="2629.8" y1="525.5" x2="2623.6" y2="525.5"/>
<line x1="2629.8" y1="505.8" x2="2623.6" y2="505.8"/>
<line x1="2629.8" y1="792.5" x2="2629.8" y2="799.1"/>
<line x1="2666.3" y1="792.5" x2="2666.3" y2="799.1"/>
<line x1="2702.8" y1="792.5" x2="2702.8" y2="799.1"/>
<line x1="2739.3" y1="792.5" x2="2739.3" y2="799.1"/>
<line x1="2775.8" y1="792.5" x2="2775.8" y2="799.1"/>
<line x1="2812.3" y1="792.5" x2="2812.3" y2="799.1"/>
<line x1="2848.8" y1="792.5" x2="2848.8" y2="799.1"/>
<line x1="2885.3" y1="792.5" x2="2885.3" y2="799.1"/>
<line x1="2921.8" y1="792.5" x2="2921.8" y2="799.1"/>
<line x1="2958.3" y1="792.5" x2="2958.3" y2="799.1"/>
<line x1="2994.8" y1="792.5" x2="2994.8" y2="799.1"/>
</g>
<text x="2617.8" y="788.9" font-family='"Liberation Sans", sans-serif' font-size="21.2" font-weight="bold" text-anchor="end" fill="#151515" stroke="#151515" stroke-width="0.35">-1.4</text>
<text x="2617.8" y="769.2" font-family='"Liberation Sans", sans-serif' font-size="21.2" font-weight="bold" text-anchor="end" fill="#151515" stroke="#151515" stroke-width="0.35">-1.2</text>
<text x="2617.8" y="749.5" font-family='"Liberation Sans", sans-serif' font-size="21.2" font-weight="bold" text-anchor="end" fill="#151515" stroke="#151515" stroke-width="0.35">-1.0</text>
<text x="2617.8" y="729.8" font-family='"Liberation Sans", sans-serif' font-size="21.2" font-weight="bold" text-anchor="end" fill="#151515" stroke="#151515" stroke-width="0.35">-0.8</text>
<text x="2617.8" y="710.1" font-family='"Liberation Sans", sans-serif' font-size="21.2" font-weight="bold" text-anchor="end" fill="#151515" stroke="#151515" stroke-width="0.35">-0.6</text>
<text x="2617.8" y="690.4" font-family='"Liberation Sans", sans-serif' font-size="21.2" font-weight="bold" text-anchor="end" fill="#151515" stroke="#151515" stroke-width="0.35">-0.4</text>
<text x="2617.8" y="670.7" font-family='"Liberation Sans", sans-serif' font-size="21.2" font-weight="bold" text-anchor="end" fill="#151515" stroke="#151515" stroke-width="0.35">-0.2</text>
<text x="2617.8" y="651.0" font-family='"Liberation Sans", sans-serif' font-size="21.2" font-weight="bold" text-anchor="end" fill="#151515" stroke="#151515" stroke-width="0.35">0.0</text>
<text x="2617.8" y="631.3" font-family='"Liberation Sans", sans-serif' font-size="21.2" font-weight="bold" text-anchor="end" fill="#151515" stroke="#151515" stroke-width="0.35">0.2</text>
<text x="2617.8" y="611.6" font-family='"Liberation Sans", sans-serif' font-size="21.2" font-weight="bold" text-anchor="end" fill="#151515" stroke="#151515" stroke-width="0.35">0.4</text>
<text x="2617.8" y="591.9" font-family='"Liberation Sans", sans-serif' font-size="21.2" font-weight="bold" text-anchor="end" fill="#151515" stroke="#151515" stroke-width="0.35">0.6</text>
<text x="2617.8" y="572.2" font-family='"Liberation Sans", sans-serif' font-size="21.2" font-weight="bold" text-anchor="end" fill="#151515" stroke="#151515" stroke-width="0.35">0.8</text>
<text x="2617.8" y="552.5" font-family='"Liberation Sans", sans-serif' font-size="21.2" font-weight="bold" text-anchor="end" fill="#151515" stroke="#151515" stroke-width="0.35">1.0</text>
<text x="2617.8" y="532.8" font-family='"Liberation Sans", sans-serif' font-size="21.2" font-weight="bold" text-anchor="end" fill="#151515" stroke="#151515" stroke-width="0.35">1.2</text>
<text x="2617.8" y="513.1" font-family='"Liberation Sans", sans-serif' font-size="21.2" font-weight="bold" text-anchor="end" fill="#151515" stroke="#151515" stroke-width="0.35">1.4</text>
<text x="2629.8" y="820.0" font-family='"Liberation Sans", sans-serif' font-size="21.5" font-weight="bold" text-anchor="middle" fill="#151515" stroke="#151515" stroke-width="0.35">0</text>
<text x="2666.3" y="820.0" font-family='"Liberation Sans", sans-serif' font-size="21.5" font-weight="bold" text-anchor="middle" fill="#151515" stroke="#151515" stroke-width="0.35">1</text>
<text x="2702.8" y="820.0" font-family='"Liberation Sans", sans-serif' font-size="21.5" font-weight="bold" text-anchor="middle" fill="#151515" stroke="#151515" stroke-width="0.35">2</text>
<text x="2739.3" y="820.0" font-family='"Liberation Sans", sans-serif' font-size="21.5" font-weight="bold" text-anchor="middle" fill="#151515" stroke="#151515" stroke-width="0.35">3</text>
<text x="2775.8" y="820.0" font-family='"Liberation Sans", sans-serif' font-size="21.5" font-weight="bold" text-anchor="middle" fill="#151515" stroke="#151515" stroke-width="0.35">4</text>
<text x="2812.3" y="820.0" font-family='"Liberation Sans", sans-serif' font-size="21.5" font-weight="bold" text-anchor="middle" fill="#151515" stroke="#151515" stroke-width="0.35">5</text>
<text x="2848.8" y="820.0" font-family='"Liberation Sans", sans-serif' font-size="21.5" font-weight="bold" text-anchor="middle" fill="#151515" stroke="#151515" stroke-width="0.35">6</text>
<text x="2885.3" y="820.0" font-family='"Liberation Sans", sans-serif' font-size="21.5" font-weight="bold" text-anchor="middle" fill="#151515" stroke="#151515" stroke-width="0.35">7</text>
<text x="2921.8" y="820.0" font-family='"Liberation Sans", sans-serif' font-size="21.5" font-weight="bold" text-anchor="middle" fill="#151515" stroke="#151515" stroke-width="0.35">8</text>
<text x="2958.3" y="820.0" font-family='"Liberation Sans", sans-serif' font-size="21.5" font-weight="bold" text-anchor="middle" fill="#151515" stroke="#151515" stroke-width="0.35">9</text>
<text x="2994.8" y="820.0" font-family='"Liberation Sans", sans-serif' font-size="21.5" font-weight="bold" text-anchor="middle" fill="#151515" stroke="#151515" stroke-width="0.35">10</text>
<text x="2765.6" y="843.2" font-family='"Liberation Sans", sans-serif' font-size="21.5" font-weight="bold" fill="#151515" stroke="#151515" stroke-width="0.35" textLength="83.1" lengthAdjust="spacingAndGlyphs">Time (s)</text>
<text x="2712" y="524.9" font-family='"Liberation Sans", sans-serif' font-size="24.5" font-weight="bold" fill="#151515" stroke="#151515" stroke-width="0.35" textLength="280" lengthAdjust="spacingAndGlyphs">n-Si 0.001-0.005 Ω·cm</text>
<text x="2573.5" y="643.5" font-family='"Liberation Sans", sans-serif' font-weight="bold" font-size="21.5" fill="#151515" text-anchor="middle" transform="rotate(-90 2573.5 643.5)"><tspan font-style="italic">V</tspan><tspan font-size="14.5" dy="4.0">OC</tspan><tspan dy="-4.0"> (V)</tspan></text>
<polyline points="2629.8,643.7 2730.2,643.7 2733.8,651.6 2736.4,658.5 2738.2,654.1 2739.7,653.2 2741.3,649.5 2742.8,656.7 2744.3,656.7 2745.9,651.2 2747.4,654.2 2748.9,656.1 2750.5,655.4 2752.0,656.6 2753.5,659.0 2755.1,652.1 2756.6,648.2 2758.1,667.3 2759.7,652.1 2761.2,656.4 2762.7,655.0 2764.3,659.3 2765.8,650.7 2767.3,657.0 2768.9,657.1 2770.4,646.9 2771.9,656.4 2773.5,647.0 2775.0,640.7 2776.5,640.7 2778.1,652.2 2779.6,658.8 2781.1,650.9 2782.7,630.9 2784.2,655.4 2785.7,659.5 2787.3,667.3 2788.8,656.0 2790.3,630.9 2791.9,630.9 2793.4,648.9 2794.9,658.5 2796.5,655.2 2798.0,659.8 2799.5,656.3 2801.1,655.5 2802.6,658.2 2804.1,652.2 2805.7,628.9 2807.2,661.0 2808.7,654.2 2810.3,655.2 2811.8,655.6 2813.3,659.4 2814.9,655.6 2816.4,659.9 2817.9,663.4 2819.5,651.8 2821.0,652.1 2822.5,655.4 2824.1,647.3 2825.6,656.0 2827.1,658.4 2828.7,655.9 2830.2,647.9 2831.7,659.1 2833.3,650.1 2834.8,647.6 2836.3,636.8 2837.8,636.8 2839.4,654.8 2840.9,648.6 2842.4,660.4 2844.0,660.4 2845.5,658.8 2847.0,652.4 2848.6,650.5 2850.1,657.9 2851.6,658.4 2853.2,649.0 2854.7,653.0 2856.2,659.5 2857.8,654.3 2859.3,657.6 2860.5,655.5 2861.9,646.7 2865.2,643.7 2994.8,643.7" fill="none" stroke="#3b8ed4" stroke-width="2.4" stroke-linejoin="round"/>
<polygon points="1741.1,883.3 1741.1,883.3 1740.5,885.0 1740.0,886.7 1739.4,888.5 1738.8,890.2 1738.2,891.9 1737.5,893.6 1736.9,895.3 1736.2,897.0 1735.6,898.8 1734.9,900.5 1734.1,902.2 1733.3,903.9 1732.5,905.6 1731.7,907.3 1730.9,909.1 1730.1,910.8 1729.2,912.5 1728.2,914.2 1727.0,915.9 1725.7,917.7 1724.3,919.4 1722.9,921.1 1721.6,922.8 1720.3,924.5 1719.0,926.2 1717.7,928.0 1716.3,929.7 1714.5,931.4 1712.4,933.1 1710.1,934.8 1707.9,936.6 1706.0,938.3 1704.2,940.0 1702.2,941.7 1699.8,943.4 1697.3,945.1 1694.7,946.9 1692.3,948.6 1690.3,950.3 1688.6,952.0 1687.4,953.7 1686.6,955.4 1686.3,957.2 1686.4,958.9 1686.8,960.6 1687.7,962.3 1689.0,964.0 1690.7,965.8 1692.7,967.5 1694.9,969.2 1697.3,970.9 1699.7,972.6 1701.9,974.3 1703.8,976.1 1705.5,977.8 1707.2,979.5 1709.0,981.2 1711.1,982.9 1713.3,984.6 1715.1,986.4 1716.7,988.1 1717.9,989.8 1719.1,991.5 1720.3,993.2 1721.5,995.0 1722.7,996.7 1724.0,998.4 1725.3,1000.1 1726.5,1001.8 1727.7,1003.5 1728.7,1005.3 1729.6,1007.0 1730.4,1008.7 1731.1,1010.4 1731.9,1012.1 1732.6,1013.9 1733.3,1015.6 1734.1,1017.3 1734.8,1019.0 1735.4,1020.7 1736.1,1022.4 1736.6,1024.2 1737.2,1025.9 1737.8,1027.6 1738.4,1029.3 1739.0,1031.0 1739.5,1032.7 1740.1,1034.5 1740.6,1036.2 1741.1,1037.9 1741.1,1037.9" fill="#f2a81d"/>
<polygon points="1741.1,883.3 1741.1,883.3 1740.5,885.0 1740.0,886.7 1739.4,888.5 1738.8,890.2 1738.2,891.9 1737.5,893.6 1736.9,895.3 1736.2,897.0 1735.6,898.8 1734.9,900.5 1734.1,902.2 1733.3,903.9 1732.5,905.6 1731.7,907.3 1730.9,909.1 1730.1,910.8 1729.2,912.5 1728.2,914.2 1727.0,915.9 1725.7,917.7 1724.3,919.4 1722.9,921.1 1721.6,922.8 1720.3,924.5 1719.0,926.2 1717.7,928.0 1716.3,929.7 1714.5,931.4 1712.4,933.1 1710.1,934.8 1707.9,936.6 1706.0,938.3 1704.2,940.0 1703.0,941.0 1741.1,941.0" fill="#e8212b"/>
<polyline points="1741.1,883.3 1740.5,885.0 1740.0,886.7 1739.4,888.5 1738.8,890.2 1738.2,891.9 1737.5,893.6 1736.9,895.3 1736.2,897.0 1735.6,898.8 1734.9,900.5 1734.1,902.2 1733.3,903.9 1732.5,905.6 1731.7,907.3 1730.9,909.1 1730.1,910.8 1729.2,912.5 1728.2,914.2 1727.0,915.9 1725.7,917.7 1724.3,919.4 1722.9,921.1 1721.6,922.8 1720.3,924.5 1719.0,926.2 1717.7,928.0 1716.3,929.7 1714.5,931.4 1712.4,933.1 1710.1,934.8 1707.9,936.6 1706.0,938.3 1704.2,940.0 1702.2,941.7 1699.8,943.4 1697.3,945.1 1694.7,946.9 1692.3,948.6 1690.3,950.3 1688.6,952.0 1687.4,953.7 1686.6,955.4 1686.3,957.2 1686.4,958.9 1686.8,960.6 1687.7,962.3 1689.0,964.0 1690.7,965.8 1692.7,967.5 1694.9,969.2 1697.3,970.9 1699.7,972.6 1701.9,974.3 1703.8,976.1 1705.5,977.8 1707.2,979.5 1709.0,981.2 1711.1,982.9 1713.3,984.6 1715.1,986.4 1716.7,988.1 1717.9,989.8 1719.1,991.5 1720.3,993.2 1721.5,995.0 1722.7,996.7 1724.0,998.4 1725.3,1000.1 1726.5,1001.8 1727.7,1003.5 1728.7,1005.3 1729.6,1007.0 1730.4,1008.7 1731.1,1010.4 1731.9,1012.1 1732.6,1013.9 1733.3,1015.6 1734.1,1017.3 1734.8,1019.0 1735.4,1020.7 1736.1,1022.4 1736.6,1024.2 1737.2,1025.9 1737.8,1027.6 1738.4,1029.3 1739.0,1031.0 1739.5,1032.7 1740.1,1034.5 1740.6,1036.2 1741.1,1037.9" fill="none" stroke="#2f6f80" stroke-width="1.3"/>
<line x1="1665.7" y1="883.3" x2="1665.7" y2="1136.8" stroke="#deb02c" stroke-width="2.6"/>
<line x1="1741.1" y1="883.3" x2="1741.1" y2="1130.6" stroke="#deb02c" stroke-width="2.6"/>
<g stroke="#8a8f98" stroke-width="1.3"><line x1="1657.5" y1="955.4" x2="1673.9" y2="955.4"/><line x1="1657.5" y1="965.3" x2="1673.9" y2="965.3"/><line x1="1657.5" y1="975.2" x2="1673.9" y2="975.2"/><line x1="1657.5" y1="985.1" x2="1673.9" y2="985.1"/><line x1="1657.5" y1="995.0" x2="1673.9" y2="995.0"/><line x1="1657.5" y1="1004.9" x2="1673.9" y2="1004.9"/><line x1="1657.5" y1="1014.8" x2="1673.9" y2="1014.8"/><line x1="1657.5" y1="1024.7" x2="1673.9" y2="1024.7"/><line x1="1657.5" y1="1034.6" x2="1673.9" y2="1034.6"/><line x1="1657.5" y1="1044.5" x2="1673.9" y2="1044.5"/><line x1="1657.5" y1="1054.4" x2="1673.9" y2="1054.4"/><line x1="1657.5" y1="1064.3" x2="1673.9" y2="1064.3"/></g>
<g stroke="#8a8f98" stroke-width="1.3"><line x1="1732.9" y1="959.5" x2="1749.3" y2="959.5"/><line x1="1732.9" y1="969.4" x2="1749.3" y2="969.4"/><line x1="1732.9" y1="979.3" x2="1749.3" y2="979.3"/><line x1="1732.9" y1="989.2" x2="1749.3" y2="989.2"/><line x1="1732.9" y1="999.1" x2="1749.3" y2="999.1"/><line x1="1732.9" y1="1009.0" x2="1749.3" y2="1009.0"/><line x1="1732.9" y1="1018.9" x2="1749.3" y2="1018.9"/><line x1="1732.9" y1="1028.8" x2="1749.3" y2="1028.8"/><line x1="1732.9" y1="1038.7" x2="1749.3" y2="1038.7"/></g>
<path d="M1539.2 934.8 H1619.5 Q1655.5 934.8 1665.7 943.9" fill="none" stroke="#4a8fc9" stroke-width="1.8"/>
<path d="M1539.2 1062.6 H1619.5 Q1655.5 1062.6 1665.7 1070.8" fill="none" stroke="#4a8fc9" stroke-width="1.8"/>
<line x1="1524.7" y1="1018.1" x2="1665.7" y2="1018.1" stroke="#4a8fc9" stroke-width="2" stroke-dasharray="7 3.5"/>
<path d="M1877.2 967.0 H1805.0 Q1755.2 967.0 1741.1 945.1" fill="none" stroke="#deb02c" stroke-width="2.3"/>
<path d="M1889.5 1100.5 H1817.4 Q1757.9 1100.5 1741.1 1086.5" fill="none" stroke="#deb02c" stroke-width="2.3"/>
<line x1="1741.1" y1="1025.5" x2="1883.3" y2="1025.5" stroke="#deb02c" stroke-width="2.2" stroke-dasharray="7 3.5"/>
<g fill="#3c4d66"><circle cx="1639.3" cy="928.6" r="5.2"/><circle cx="1654.6" cy="932.7" r="5.2"/></g>
<g fill="#3c4d66"><circle cx="1666.7" cy="1018.1" r="5.2"/><circle cx="1666.7" cy="1030.4" r="5.2"/><circle cx="1666.7" cy="1042.8" r="5.2"/><circle cx="1666.7" cy="1054.3" r="5.2"/><circle cx="1666.7" cy="1065.9" r="5.2"/></g>
<g fill="#3c4d66"><circle cx="1716.4" cy="951.3" r="5.2"/><circle cx="1725.9" cy="938.9" r="5.2"/><circle cx="1735.8" cy="929.9" r="5.2"/><circle cx="1739.1" cy="946.3" r="5.2"/></g>
<g fill="#3c4d66"><circle cx="1761.7" cy="938.9" r="5.2"/><circle cx="1777.0" cy="950.5" r="5.2"/><circle cx="1791.8" cy="957.5" r="5.2"/></g>
<g fill="#3c4d66"><circle cx="1741.1" cy="1054.3" r="5.2"/><circle cx="1741.1" cy="1066.7" r="5.2"/><circle cx="1741.1" cy="1078.3" r="5.2"/><circle cx="1741.1" cy="1089.4" r="5.2"/></g>
<line x1="1636.0" y1="913.4" x2="1651.9" y2="916.8" stroke="#5b2d90" stroke-width="1.8"/><polygon points="1658.7,918.3 1651.2,919.8 1652.5,913.9" fill="#5b2d90"/>
<line x1="1671.1" y1="936.9" x2="1714.3" y2="936.9" stroke="#9a7fc0" stroke-width="2.4"/>
<line x1="1664.9" y1="950.5" x2="1710.5" y2="950.5" stroke="#5b2d90" stroke-width="2.2"/><polygon points="1718.5,950.5 1710.5,953.9 1710.5,947.1" fill="#5b2d90"/>
<line x1="1743.2" y1="924.5" x2="1761.8" y2="924.5" stroke="#5b2d90" stroke-width="1.8"/><polygon points="1768.8,924.5 1761.8,927.5 1761.8,921.5" fill="#5b2d90"/>
<line x1="1780.3" y1="927.4" x2="1797.5" y2="932.1" stroke="#5b2d90" stroke-width="1.8"/><polygon points="1804.2,934.0 1796.7,935.0 1798.3,929.2" fill="#5b2d90"/>
<path d="M1765.9 883.3 H1710.2 L1687.6 927.4" fill="none" stroke="#9a86bd" stroke-width="1" stroke-dasharray="2 1.2"/>
<line x1="1738.0" y1="1023.4" x2="1738.0" y2="985.0" stroke="#f4b6bb" stroke-width="1.4"/>
<line x1="1735.8" y1="1023.4" x2="1735.8" y2="985.0" stroke="#e8212b" stroke-width="2"/><polygon points="1735.8,976.0 1740.0,985.0 1731.6,985.0" fill="#e8212b"/>
<polygon points="1737.2,1042.4 1727.3,1050.9 1715.6,1057.8 1713.3,1056.3 1700.2,1069.4 1696.3,1067.1 1681.6,1077.5 1694.7,1090.9 1705.6,1075.6 1710.3,1077.5 1721.8,1064.0 1724.9,1065.6" fill="#e8212b"/>
<text x="1555.6" y="916.3" font-family='"Liberation Sans", sans-serif' font-size="20.5" font-weight="bold" font-style="italic" fill="#151515" stroke="#151515" stroke-width="0.35" textLength="43" lengthAdjust="spacingAndGlyphs">C.B.</text>
<text x="1857.8" y="958.7" font-family='"Liberation Sans", sans-serif' font-size="20.5" font-weight="bold" font-style="italic" fill="#151515" stroke="#151515" stroke-width="0.35" textLength="43" lengthAdjust="spacingAndGlyphs">C.B.</text>
<text x="1535.0" y="1101.7" font-family='"Liberation Sans", sans-serif' font-size="20.5" font-weight="bold" font-style="italic" fill="#151515" stroke="#151515" stroke-width="0.35" textLength="41" lengthAdjust="spacingAndGlyphs">V.B.</text>
<text x="1844.2" y="1087.3" font-family='"Liberation Sans", sans-serif' font-size="20.5" font-weight="bold" font-style="italic" fill="#151515" stroke="#151515" stroke-width="0.35" textLength="41" lengthAdjust="spacingAndGlyphs">V.B.</text>
<text x="1539.2" y="1006.9" font-family='"Liberation Sans", sans-serif' font-weight="bold" fill="#151515" font-size="24.5" textLength="48" lengthAdjust="spacingAndGlyphs"><tspan font-style="italic">E</tspan><tspan font-size="15" dy="5">F,Si</tspan></text>
<text x="1840.1" y="1018.1" font-family='"Liberation Sans", sans-serif' font-weight="bold" fill="#151515" font-size="24.5" textLength="80" lengthAdjust="spacingAndGlyphs"><tspan font-style="italic">E</tspan><tspan font-size="15" dy="5">F, MoS2</tspan></text>
<text x="1689.6" y="875.0" font-family='"Liberation Sans", sans-serif' font-size="21" font-weight="bold" font-style="italic" fill="#5b2d90" stroke="#5b2d90" stroke-width="0.35" textLength="108" lengthAdjust="spacingAndGlyphs">Tunneling</text>
<text x="1825.6" y="901.8" font-family='"Liberation Sans", sans-serif' font-size="21" font-weight="bold" font-style="italic" fill="#5b2d90" stroke="#5b2d90" stroke-width="0.35" textLength="43.5" lengthAdjust="spacingAndGlyphs">D.C.</text>
<polygon points="1871.0,914.8 1822.1,914.8 1822.1,911.0999999999999 1807.1,918.3 1822.1,925.5 1822.1,921.8 1871.0,921.8" fill="#5b2d90"/>
<text x="1655.8" y="1107.9" font-family='"Liberation Sans", sans-serif' font-weight="bold" fill="#151515" font-size="27" textLength="77" lengthAdjust="spacingAndGlyphs"><tspan font-style="italic">E</tspan><tspan font-size="17" dy="6">friction</tspan></text>
<text x="1535.0" y="1167.7" font-family='"Liberation Sans", sans-serif' font-size="23.5" font-weight="bold" fill="#151515" stroke="#151515" stroke-width="0.35" textLength="49.5" lengthAdjust="spacingAndGlyphs">p-Si</text>
<text x="1627.8" y="1169.8" font-family='"Liberation Sans", sans-serif' font-weight="bold" fill="#151515" font-size="24" textLength="156.5" lengthAdjust="spacingAndGlyphs"><tspan>SiO</tspan><tspan font-size="14.9" dy="6">2</tspan><tspan dy="-6"> (1-2nm)</tspan></text>
<text x="1813.3" y="1169.8" font-family='"Liberation Sans", sans-serif' font-weight="bold" fill="#151515" font-size="24" textLength="65" lengthAdjust="spacingAndGlyphs"><tspan>MoS</tspan><tspan font-size="14.9" dy="6">2</tspan></text>
<polygon points="2150.6,876.3 2150.6,876.3 2150.0,878.0 2149.4,879.8 2148.8,881.5 2148.2,883.3 2147.5,885.0 2146.8,886.8 2146.2,888.5 2145.5,890.3 2144.7,892.0 2144.0,893.8 2143.2,895.5 2142.3,897.3 2141.5,899.0 2140.6,900.8 2139.8,902.5 2138.9,904.3 2137.8,906.0 2136.6,907.8 2135.2,909.5 2133.7,911.3 2132.3,913.0 2130.9,914.8 2129.5,916.5 2128.2,918.3 2126.7,920.0 2125.1,921.8 2123.1,923.5 2120.7,925.3 2118.4,927.0 2116.3,928.8 2114.3,930.5 2112.2,932.3 2109.9,934.0 2107.3,935.8 2104.6,937.5 2102.0,939.3 2099.9,941.0 2098.1,942.8 2096.9,944.5 2096.1,946.3 2095.8,948.0 2095.9,949.8 2096.4,951.5 2097.3,953.3 2098.5,955.0 2100.1,956.7 2102.0,958.5 2104.1,960.2 2106.4,962.0 2108.7,963.7 2110.9,965.5 2112.8,967.2 2114.4,969.0 2116.0,970.7 2117.7,972.5 2119.6,974.2 2121.7,976.0 2123.7,977.7 2125.3,979.5 2126.7,981.2 2127.8,983.0 2129.0,984.7 2130.1,986.5 2131.2,988.2 2132.4,990.0 2133.6,991.7 2134.8,993.5 2136.0,995.2 2137.2,997.0 2138.1,998.7 2139.0,1000.5 2139.7,1002.2 2140.4,1004.0 2141.1,1005.7 2141.9,1007.5 2142.6,1009.2 2143.3,1011.0 2144.0,1012.7 2144.6,1014.5 2145.2,1016.2 2145.8,1018.0 2146.4,1019.7 2146.9,1021.5 2147.5,1023.2 2148.1,1025.0 2148.6,1026.7 2149.1,1028.5 2149.6,1030.2 2150.1,1032.0 2150.6,1033.7 2150.6,1033.7" fill="#f2a81d"/>
<polygon points="2150.6,876.3 2150.6,876.3 2150.0,878.0 2149.4,879.8 2148.8,881.5 2148.2,883.3 2147.5,885.0 2146.8,886.8 2146.2,888.5 2145.5,890.3 2144.7,892.0 2144.0,893.8 2143.2,895.5 2142.3,897.3 2141.5,899.0 2140.6,900.8 2139.8,902.5 2138.9,904.3 2137.8,906.0 2136.6,907.8 2135.2,909.5 2133.7,911.3 2132.3,913.0 2130.9,914.8 2129.5,916.5 2128.2,918.3 2126.7,920.0 2125.1,921.8 2123.1,923.5 2120.7,925.3 2118.4,927.0 2116.3,928.8 2114.3,930.5 2112.2,932.3 2111.7,932.7 2150.6,932.7" fill="#e8212b"/>
<polyline points="2150.6,876.3 2150.0,878.0 2149.4,879.8 2148.8,881.5 2148.2,883.3 2147.5,885.0 2146.8,886.8 2146.2,888.5 2145.5,890.3 2144.7,892.0 2144.0,893.8 2143.2,895.5 2142.3,897.3 2141.5,899.0 2140.6,900.8 2139.8,902.5 2138.9,904.3 2137.8,906.0 2136.6,907.8 2135.2,909.5 2133.7,911.3 2132.3,913.0 2130.9,914.8 2129.5,916.5 2128.2,918.3 2126.7,920.0 2125.1,921.8 2123.1,923.5 2120.7,925.3 2118.4,927.0 2116.3,928.8 2114.3,930.5 2112.2,932.3 2109.9,934.0 2107.3,935.8 2104.6,937.5 2102.0,939.3 2099.9,941.0 2098.1,942.8 2096.9,944.5 2096.1,946.3 2095.8,948.0 2095.9,949.8 2096.4,951.5 2097.3,953.3 2098.5,955.0 2100.1,956.7 2102.0,958.5 2104.1,960.2 2106.4,962.0 2108.7,963.7 2110.9,965.5 2112.8,967.2 2114.4,969.0 2116.0,970.7 2117.7,972.5 2119.6,974.2 2121.7,976.0 2123.7,977.7 2125.3,979.5 2126.7,981.2 2127.8,983.0 2129.0,984.7 2130.1,986.5 2131.2,988.2 2132.4,990.0 2133.6,991.7 2134.8,993.5 2136.0,995.2 2137.2,997.0 2138.1,998.7 2139.0,1000.5 2139.7,1002.2 2140.4,1004.0 2141.1,1005.7 2141.9,1007.5 2142.6,1009.2 2143.3,1011.0 2144.0,1012.7 2144.6,1014.5 2145.2,1016.2 2145.8,1018.0 2146.4,1019.7 2146.9,1021.5 2147.5,1023.2 2148.1,1025.0 2148.6,1026.7 2149.1,1028.5 2149.6,1030.2 2150.1,1032.0 2150.6,1033.7" fill="none" stroke="#2f6f80" stroke-width="1.3"/>
<line x1="2080.1" y1="879.2" x2="2080.1" y2="1132.7" stroke="#deb02c" stroke-width="2.6"/>
<line x1="2150.6" y1="876.3" x2="2150.6" y2="1132.7" stroke="#deb02c" stroke-width="2.6"/>
<g stroke="#8a8f98" stroke-width="1.3"><line x1="2071.9" y1="950.5" x2="2088.3" y2="950.5"/><line x1="2071.9" y1="960.4" x2="2088.3" y2="960.4"/><line x1="2071.9" y1="970.3" x2="2088.3" y2="970.3"/><line x1="2071.9" y1="980.2" x2="2088.3" y2="980.2"/><line x1="2071.9" y1="990.1" x2="2088.3" y2="990.1"/><line x1="2071.9" y1="1000.0" x2="2088.3" y2="1000.0"/></g>
<g stroke="#8a8f98" stroke-width="1.3"><line x1="2142.4" y1="961.6" x2="2158.8" y2="961.6"/><line x1="2142.4" y1="971.5" x2="2158.8" y2="971.5"/><line x1="2142.4" y1="981.4" x2="2158.8" y2="981.4"/><line x1="2142.4" y1="991.3" x2="2158.8" y2="991.3"/><line x1="2142.4" y1="1001.2" x2="2158.8" y2="1001.2"/><line x1="2142.4" y1="1011.1" x2="2158.8" y2="1011.1"/><line x1="2142.4" y1="1021.0" x2="2158.8" y2="1021.0"/></g>
<path d="M1948.6 927.4 H2023.7 Q2067.7 927.4 2080.1 950.5" fill="none" stroke="#4a8fc9" stroke-width="1.8"/>
<path d="M1948.6 1048.2 H2023.7 Q2067.7 1048.2 2080.1 1065.9" fill="none" stroke="#4a8fc9" stroke-width="1.8"/>
<line x1="1937.9" y1="1004.1" x2="2080.1" y2="1004.1" stroke="#4a8fc9" stroke-width="2" stroke-dasharray="7 3.5"/>
<line x1="1974.2" y1="1035.8" x2="2150.6" y2="1035.8" stroke="#4a8fc9" stroke-width="2" stroke-dasharray="2.2 2.6"/>
<path d="M2289.5 981.0 H2213.3 Q2164.4 981.0 2150.6 953.4" fill="none" stroke="#deb02c" stroke-width="2.3"/>
<path d="M2295.7 1112.1 H2225.6 Q2167.1 1112.1 2150.6 1068.8" fill="none" stroke="#deb02c" stroke-width="2.3"/>
<line x1="2150.6" y1="1037.0" x2="2295.7" y2="1037.0" stroke="#deb02c" stroke-width="2.2" stroke-dasharray="7 3.5"/>
<g fill="#3c4d66"><circle cx="2080.1" cy="1011.1" r="5.2"/><circle cx="2080.1" cy="1023.4" r="5.2"/><circle cx="2080.1" cy="1037.9" r="5.2"/><circle cx="2080.1" cy="1050.2" r="5.2"/><circle cx="2080.1" cy="1061.8" r="5.2"/></g>
<g fill="#3c4d66"><circle cx="2146.5" cy="921.6" r="5.2"/><circle cx="2126.7" cy="943.1" r="5.2"/><circle cx="2139.1" cy="949.2" r="5.2"/><circle cx="2149.4" cy="938.9" r="5.2"/><circle cx="2131.7" cy="965.7" r="5.2"/></g>
<g fill="#3c4d66"><circle cx="2151.6" cy="1040.7" r="5.2"/><circle cx="2151.6" cy="1052.3" r="5.2"/><circle cx="2151.6" cy="1062.6" r="5.2"/></g>
<line x1="1990.7" y1="967.8" x2="1990.7" y2="994.8" stroke="#4a8fc9" stroke-width="1.4"/><polygon points="1990.7,1002.8 1987.2,994.8 1994.2,994.8" fill="#4a8fc9"/>
<line x1="1994.8" y1="1075.0" x2="1994.8" y2="1046.7" stroke="#4a8fc9" stroke-width="1.4"/><polygon points="1994.8,1038.7 1998.3,1046.7 1991.3,1046.7" fill="#4a8fc9"/>
<line x1="2069.1" y1="1027.6" x2="2069.1" y2="984.2" stroke="#f4b6bb" stroke-width="1.4"/>
<line x1="2066.9" y1="1027.6" x2="2066.9" y2="984.2" stroke="#e8212b" stroke-width="2"/><polygon points="2066.9,975.2 2071.1,984.2 2062.7,984.2" fill="#e8212b"/>
<line x1="2139.2" y1="1027.6" x2="2139.2" y2="988.3" stroke="#f4b6bb" stroke-width="1.4"/>
<line x1="2137.0" y1="1027.6" x2="2137.0" y2="988.3" stroke="#e8212b" stroke-width="2"/><polygon points="2137.0,979.3 2141.2,988.3 2132.8,988.3" fill="#e8212b"/>
<polygon points="2144.2,1046.6 2135.6,1056.6 2125.1,1065.3 2122.6,1064.2 2111.6,1079.3 2107.4,1077.6 2094.4,1090.3 2109.5,1101.6 2118.0,1084.6 2122.9,1085.7 2132.3,1070.5 2135.6,1071.6" fill="#e8212b"/>
<text x="1970.1" y="910.9" font-family='"Liberation Sans", sans-serif' font-size="20.5" font-weight="bold" font-style="italic" fill="#151515" stroke="#151515" stroke-width="0.35" textLength="43" lengthAdjust="spacingAndGlyphs">C.B.</text>
<text x="2212.4" y="965.7" font-family='"Liberation Sans", sans-serif' font-size="20.5" font-weight="bold" font-style="italic" fill="#151515" stroke="#151515" stroke-width="0.35" textLength="43" lengthAdjust="spacingAndGlyphs">C.B.</text>
<text x="1933.0" y="1094.7" font-family='"Liberation Sans", sans-serif' font-size="20.5" font-weight="bold" font-style="italic" fill="#151515" stroke="#151515" stroke-width="0.35" textLength="41" lengthAdjust="spacingAndGlyphs">V.B.</text>
<text x="2226.9" y="1101.7" font-family='"Liberation Sans", sans-serif' font-size="20.5" font-weight="bold" font-style="italic" fill="#151515" stroke="#151515" stroke-width="0.35" textLength="41" lengthAdjust="spacingAndGlyphs">V.B.</text>
<text x="2009.2" y="993.3" font-family='"Liberation Sans", sans-serif' font-weight="bold" fill="#151515" font-size="24.5" textLength="48" lengthAdjust="spacingAndGlyphs"><tspan font-style="italic">E</tspan><tspan font-size="15" dy="5">F,Si</tspan></text>
<text x="2208.3" y="1030.4" font-family='"Liberation Sans", sans-serif' font-weight="bold" fill="#151515" font-size="24.5" textLength="81" lengthAdjust="spacingAndGlyphs"><tspan font-style="italic">E</tspan><tspan font-size="15" dy="5">F, MoS2</tspan></text>
<text x="1954.8" y="1026.3" font-family='"Liberation Sans", sans-serif' font-weight="bold" fill="#151515" font-size="24.5" textLength="34" lengthAdjust="spacingAndGlyphs"><tspan font-style="italic">V</tspan><tspan font-size="15" dy="5">OC</tspan></text>
<text x="1963.1" y="1171.8" font-family='"Liberation Sans", sans-serif' font-size="23.5" font-weight="bold" fill="#151515" stroke="#151515" stroke-width="0.35" textLength="49.5" lengthAdjust="spacingAndGlyphs">p-Si</text>
<text x="2043.4" y="1171.8" font-family='"Liberation Sans", sans-serif' font-weight="bold" fill="#151515" font-size="24" textLength="156.5" lengthAdjust="spacingAndGlyphs"><tspan>SiO</tspan><tspan font-size="14.9" dy="6">2</tspan><tspan dy="-6"> (1-2nm)</tspan></text>
<text x="2225.6" y="1171.8" font-family='"Liberation Sans", sans-serif' font-weight="bold" fill="#151515" font-size="24" textLength="65" lengthAdjust="spacingAndGlyphs"><tspan>MoS</tspan><tspan font-size="14.9" dy="6">2</tspan></text>
<polygon points="2533.4,1014.7 2523.6,1022.9 2512.1,1029.5 2509.9,1028.0 2496.9,1040.6 2493.1,1038.3 2478.7,1048.3 2491.3,1061.6 2502.1,1046.7 2506.6,1048.6 2518.1,1035.6 2521.1,1037.2" fill="#e8212b"/>
<polygon points="2539.6,1003.2 2539.6,1003.2 2539.1,1004.6 2538.6,1006.0 2538.1,1007.4 2537.5,1008.9 2537.0,1010.3 2536.4,1011.7 2535.8,1013.1 2535.2,1014.5 2534.6,1015.9 2534.0,1017.4 2533.4,1018.8 2532.7,1020.2 2532.0,1021.6 2531.2,1023.0 2530.5,1024.4 2529.8,1025.8 2529.0,1027.3 2528.3,1028.7 2527.4,1030.1 2526.4,1031.5 2525.2,1032.9 2523.9,1034.3 2522.7,1035.8 2521.4,1037.2 2520.3,1038.6 2519.1,1040.0 2517.9,1041.4 2516.7,1042.8 2515.4,1044.3 2513.9,1045.7 2511.9,1047.1 2509.8,1048.5 2507.8,1049.9 2506.0,1051.3 2504.4,1052.7 2502.6,1054.2 2500.7,1055.6 2498.4,1057.0 2496.1,1058.4 2493.8,1059.8 2491.7,1061.2 2489.8,1062.7 2488.4,1064.1 2487.3,1065.5 2486.6,1066.9 2486.3,1068.3 2486.4,1069.7 2486.8,1071.1 2487.8,1072.6 2489.1,1074.0 2490.9,1075.4 2493.1,1076.8 2495.4,1078.2 2497.9,1079.6 2500.3,1081.1 2502.4,1082.5 2504.3,1083.9 2506.1,1085.3 2508.0,1086.7 2510.1,1088.1 2512.3,1089.5 2514.3,1091.0 2515.9,1092.4 2517.2,1093.8 2518.5,1095.2 2519.7,1096.6 2520.9,1098.0 2522.2,1099.5 2523.6,1100.9 2524.9,1102.3 2526.2,1103.7 2527.3,1105.1 2528.2,1106.5 2529.0,1108.0 2529.8,1109.4 2530.6,1110.8 2531.4,1112.2 2532.2,1113.6 2532.9,1115.0 2533.6,1116.4 2534.3,1117.9 2534.9,1119.3 2535.6,1120.7 2536.2,1122.1 2536.8,1123.5 2537.4,1124.9 2538.0,1126.4 2538.5,1127.8 2539.1,1129.2 2539.6,1130.6 2539.6,1130.6" fill="#f2a81d"/>
<polygon points="2539.6,1082 2501.7,1082 2502.4,1082.5 2504.3,1083.9 2506.1,1085.3 2508.0,1086.7 2510.1,1088.1 2512.3,1089.5 2514.3,1091.0 2515.9,1092.4 2517.2,1093.8 2518.5,1095.2 2519.7,1096.6 2520.9,1098.0 2522.2,1099.5 2523.6,1100.9 2524.9,1102.3 2526.2,1103.7 2527.3,1105.1 2528.2,1106.5 2529.0,1108.0 2529.8,1109.4 2530.6,1110.8 2531.4,1112.2 2532.2,1113.6 2532.9,1115.0 2533.6,1116.4 2534.3,1117.9 2534.9,1119.3 2535.6,1120.7 2536.2,1122.1 2536.8,1123.5 2537.4,1124.9 2538.0,1126.4 2538.5,1127.8 2539.1,1129.2 2539.6,1130.6 2539.6,1130.6" fill="#e8212b"/>
<polyline points="2539.6,1003.2 2539.1,1004.6 2538.6,1006.0 2538.1,1007.4 2537.5,1008.9 2537.0,1010.3 2536.4,1011.7 2535.8,1013.1 2535.2,1014.5 2534.6,1015.9 2534.0,1017.4 2533.4,1018.8 2532.7,1020.2 2532.0,1021.6 2531.2,1023.0 2530.5,1024.4 2529.8,1025.8 2529.0,1027.3 2528.3,1028.7 2527.4,1030.1 2526.4,1031.5 2525.2,1032.9 2523.9,1034.3 2522.7,1035.8 2521.4,1037.2 2520.3,1038.6 2519.1,1040.0 2517.9,1041.4 2516.7,1042.8 2515.4,1044.3 2513.9,1045.7 2511.9,1047.1 2509.8,1048.5 2507.8,1049.9 2506.0,1051.3 2504.4,1052.7 2502.6,1054.2 2500.7,1055.6 2498.4,1057.0 2496.1,1058.4 2493.8,1059.8 2491.7,1061.2 2489.8,1062.7 2488.4,1064.1 2487.3,1065.5 2486.6,1066.9 2486.3,1068.3 2486.4,1069.7 2486.8,1071.1 2487.8,1072.6 2489.1,1074.0 2490.9,1075.4 2493.1,1076.8 2495.4,1078.2 2497.9,1079.6 2500.3,1081.1 2502.4,1082.5 2504.3,1083.9 2506.1,1085.3 2508.0,1086.7 2510.1,1088.1 2512.3,1089.5 2514.3,1091.0 2515.9,1092.4 2517.2,1093.8 2518.5,1095.2 2519.7,1096.6 2520.9,1098.0 2522.2,1099.5 2523.6,1100.9 2524.9,1102.3 2526.2,1103.7 2527.3,1105.1 2528.2,1106.5 2529.0,1108.0 2529.8,1109.4 2530.6,1110.8 2531.4,1112.2 2532.2,1113.6 2532.9,1115.0 2533.6,1116.4 2534.3,1117.9 2534.9,1119.3 2535.6,1120.7 2536.2,1122.1 2536.8,1123.5 2537.4,1124.9 2538.0,1126.4 2538.5,1127.8 2539.1,1129.2 2539.6,1130.6" fill="none" stroke="#2f6f80" stroke-width="1.3"/>
<line x1="2465.7" y1="885.3" x2="2465.7" y2="1134.7" stroke="#deb02c" stroke-width="2.6"/>
<line x1="2538.3" y1="883.3" x2="2538.3" y2="1128.5" stroke="#deb02c" stroke-width="2.6"/>
<g stroke="#8a8f98" stroke-width="1.3"><line x1="2457.5" y1="963.7" x2="2473.9" y2="963.7"/><line x1="2457.5" y1="973.6" x2="2473.9" y2="973.6"/><line x1="2457.5" y1="983.5" x2="2473.9" y2="983.5"/><line x1="2457.5" y1="993.4" x2="2473.9" y2="993.4"/></g>
<g stroke="#8a8f98" stroke-width="1.3"><line x1="2530.1" y1="938.9" x2="2546.5" y2="938.9"/><line x1="2530.1" y1="948.8" x2="2546.5" y2="948.8"/><line x1="2530.1" y1="958.7" x2="2546.5" y2="958.7"/><line x1="2530.1" y1="968.6" x2="2546.5" y2="968.6"/><line x1="2530.1" y1="978.5" x2="2546.5" y2="978.5"/><line x1="2530.1" y1="988.4" x2="2546.5" y2="988.4"/><line x1="2530.1" y1="998.3" x2="2546.5" y2="998.3"/><line x1="2530.1" y1="1008.2" x2="2546.5" y2="1008.2"/><line x1="2530.1" y1="1018.1" x2="2546.5" y2="1018.1"/><line x1="2530.1" y1="1028.0" x2="2546.5" y2="1028.0"/><line x1="2530.1" y1="1037.9" x2="2546.5" y2="1037.9"/></g>
<path d="M2340.4 967.0 H2423.7 Q2456.5 967.0 2465.7 962.0" fill="none" stroke="#4a8fc9" stroke-width="1.8"/>
<path d="M2335.0 1095.6 H2423.7 Q2456.5 1095.6 2465.7 1092.3" fill="none" stroke="#4a8fc9" stroke-width="1.8"/>
<line x1="2324.7" y1="1002.0" x2="2465.7" y2="1002.0" stroke="#4a8fc9" stroke-width="2" stroke-dasharray="7 3.5"/>
<path d="M2675.9 936.9 H2596.8 Q2551.2 936.9 2538.3 950.5" fill="none" stroke="#deb02c" stroke-width="2.3"/>
<path d="M2685.4 1062.6 H2605.0 Q2553.0 1062.6 2538.3 1075.8" fill="none" stroke="#deb02c" stroke-width="2.3"/>
<line x1="2538.3" y1="1002.0" x2="2679.2" y2="1002.0" stroke="#deb02c" stroke-width="2.2" stroke-dasharray="7 3.5"/>
<g fill="#3c4d66"><circle cx="2465.7" cy="1006.9" r="5.2"/><circle cx="2465.7" cy="1018.1" r="5.2"/><circle cx="2465.7" cy="1029.6" r="5.2"/><circle cx="2465.7" cy="1042.0" r="5.2"/><circle cx="2465.7" cy="1054.3" r="5.2"/><circle cx="2465.7" cy="1066.7" r="5.2"/><circle cx="2465.7" cy="1078.3" r="5.2"/></g>
<g fill="#3c4d66"><circle cx="2538.3" cy="1046.1" r="5.2"/><circle cx="2538.3" cy="1057.6" r="5.2"/></g>
<g fill="#3c4d66"><circle cx="2528.8" cy="916.3" r="5.2"/><circle cx="2527.5" cy="932.7" r="5.2"/><circle cx="2540.3" cy="926.6" r="5.2"/></g>
<g fill="none" stroke="#4a5a30" stroke-width="1.4"><circle cx="2508.2" cy="1074.1" r="4.3"/><circle cx="2522.6" cy="1068.8" r="4.3"/><circle cx="2532.9" cy="1079.9" r="4.3"/></g>
<g fill="none" stroke="#8a2030" stroke-width="1.4"><circle cx="2524.6" cy="1089.4" r="4.3"/><circle cx="2530.8" cy="1099.7" r="4.3"/></g>
<g fill="none" stroke="#3c4d66" stroke-width="1.4"><circle cx="2436.0" cy="1110.0" r="4.3"/><circle cx="2453.3" cy="1105.9" r="4.3"/><circle cx="2551.4" cy="1086.5" r="4.3"/><circle cx="2567.9" cy="1079.1" r="4.3"/><circle cx="2586.5" cy="1075.8" r="4.3"/></g>
<line x1="2536.3" y1="996.6" x2="2536.3" y2="954.5" stroke="#f4b6bb" stroke-width="1.4"/>
<line x1="2534.1" y1="996.6" x2="2534.1" y2="954.5" stroke="#e8212b" stroke-width="2"/><polygon points="2534.1,945.5 2538.3,954.5 2529.9,954.5" fill="#e8212b"/>
<line x1="2466.9" y1="1096.4" x2="2506.1" y2="1096.4" stroke="#5b2d90" stroke-width="2.8"/>
<line x1="2504.0" y1="1096.4" x2="2509.6" y2="1096.4" stroke="#5b2d90" stroke-width="2"/><polygon points="2517.6,1096.4 2509.6,1099.8 2509.6,1093.0" fill="#5b2d90"/>
<line x1="2471.1" y1="1112.1" x2="2503.0" y2="1112.1" stroke="#5b2d90" stroke-width="2"/><polygon points="2511.0,1112.1 2503.0,1115.5 2503.0,1108.7" fill="#5b2d90"/>
<line x1="2431.9" y1="1122.4" x2="2453.1" y2="1117.1" stroke="#5b2d90" stroke-width="1.8"/><polygon points="2459.9,1115.4 2453.8,1120.0 2452.4,1114.2" fill="#5b2d90"/>
<line x1="2557.6" y1="1100.5" x2="2576.8" y2="1096.2" stroke="#5b2d90" stroke-width="1.8"/><polygon points="2583.6,1094.7 2577.4,1099.2 2576.1,1093.3" fill="#5b2d90"/>
<text x="2325.6" y="952.1" font-family='"Liberation Sans", sans-serif' font-size="20.5" font-weight="bold" font-style="italic" fill="#151515" stroke="#151515" stroke-width="0.35" textLength="43" lengthAdjust="spacingAndGlyphs">C.B.</text>
<text x="2655.3" y="928.6" font-family='"Liberation Sans", sans-serif' font-size="20.5" font-weight="bold" font-style="italic" fill="#151515" stroke="#151515" stroke-width="0.35" textLength="43" lengthAdjust="spacingAndGlyphs">C.B.</text>
<text x="2348.6" y="1124.4" font-family='"Liberation Sans", sans-serif' font-size="20.5" font-weight="bold" font-style="italic" fill="#151515" stroke="#151515" stroke-width="0.35" textLength="41" lengthAdjust="spacingAndGlyphs">V.B.</text>
<text x="2644.2" y="1057.6" font-family='"Liberation Sans", sans-serif' font-size="20.5" font-weight="bold" font-style="italic" fill="#151515" stroke="#151515" stroke-width="0.35" textLength="41" lengthAdjust="spacingAndGlyphs">V.B.</text>
<text x="2335.0" y="1035.8" font-family='"Liberation Sans", sans-serif' font-weight="bold" fill="#151515" font-size="24.5" textLength="48" lengthAdjust="spacingAndGlyphs"><tspan font-style="italic">E</tspan><tspan font-size="15" dy="5">F,Si</tspan></text>
<text x="2627.7" y="1023.4" font-family='"Liberation Sans", sans-serif' font-weight="bold" fill="#151515" font-size="24.5" textLength="83" lengthAdjust="spacingAndGlyphs"><tspan font-style="italic">E</tspan><tspan font-size="15" dy="5">F, MoS2</tspan></text>
<text x="2572.1" y="883.3" font-family='"Liberation Sans", sans-serif' font-size="21" font-weight="bold" font-style="italic" fill="#5b2d90" stroke="#5b2d90" stroke-width="0.35" textLength="44.5" lengthAdjust="spacingAndGlyphs">D.C.</text>
<polygon points="2553.5,893.4 2603.2,893.4 2603.2,889.6999999999999 2618.2,896.9 2603.2,904.1 2603.2,900.4 2553.5,900.4" fill="#5b2d90"/>
<text x="2493.7" y="1140.9" font-family='"Liberation Sans", sans-serif' font-size="21" font-weight="bold" font-style="italic" fill="#5b2d90" stroke="#5b2d90" stroke-width="0.35" textLength="111" lengthAdjust="spacingAndGlyphs">Tunneling</text>
<text x="2344.5" y="1175.9" font-family='"Liberation Sans", sans-serif' font-size="23.5" font-weight="bold" fill="#151515" stroke="#151515" stroke-width="0.35" textLength="50" lengthAdjust="spacingAndGlyphs">n-Si</text>
<text x="2435.2" y="1180.1" font-family='"Liberation Sans", sans-serif' font-weight="bold" fill="#151515" font-size="24" textLength="155.5" lengthAdjust="spacingAndGlyphs"><tspan>SiO</tspan><tspan font-size="14.9" dy="6">2</tspan><tspan dy="-6"> (1-2nm)</tspan></text>
<text x="2617.4" y="1177.2" font-family='"Liberation Sans", sans-serif' font-weight="bold" fill="#151515" font-size="24" textLength="65" lengthAdjust="spacingAndGlyphs"><tspan>MoS</tspan><tspan font-size="14.9" dy="6">2</tspan></text>
<polygon points="2941.2,1006.9 2931.5,1015.1 2920.1,1021.7 2917.9,1020.3 2905.1,1032.9 2901.4,1030.6 2887.1,1040.7 2899.7,1053.8 2910.4,1039.0 2914.9,1040.8 2926.1,1027.8 2929.1,1029.3" fill="#e8212b"/>
<polygon points="2949,995.6 2949.0,995.6 2948.5,997.1 2947.9,998.6 2947.4,1000.1 2946.8,1001.5 2946.2,1003.0 2945.5,1004.5 2944.9,1006.0 2944.3,1007.5 2943.6,1009.0 2943.0,1010.5 2942.2,1012.0 2941.5,1013.4 2940.7,1014.9 2939.9,1016.4 2939.1,1017.9 2938.3,1019.4 2937.5,1020.9 2936.5,1022.4 2935.4,1023.8 2934.2,1025.3 2932.8,1026.8 2931.5,1028.3 2930.2,1029.8 2928.9,1031.3 2927.7,1032.8 2926.4,1034.3 2925.1,1035.7 2923.5,1037.2 2921.5,1038.7 2919.3,1040.2 2917.2,1041.7 2915.2,1043.2 2913.4,1044.7 2911.5,1046.1 2909.4,1047.6 2907.1,1049.1 2904.5,1050.6 2902.1,1052.1 2899.9,1053.6 2898.0,1055.1 2896.6,1056.6 2895.5,1058.0 2895.0,1059.5 2894.8,1061.0 2895.0,1062.5 2895.7,1064.0 2896.7,1065.5 2898.1,1067.0 2899.9,1068.4 2902.0,1069.9 2904.4,1071.4 2906.8,1072.9 2909.1,1074.4 2911.1,1075.9 2912.9,1077.4 2914.6,1078.9 2916.4,1080.3 2918.4,1081.8 2920.6,1083.3 2922.6,1084.8 2924.3,1086.3 2925.6,1087.8 2926.8,1089.3 2928.0,1090.7 2929.2,1092.2 2930.4,1093.7 2931.7,1095.2 2932.9,1096.7 2934.2,1098.2 2935.4,1099.7 2936.5,1101.2 2937.4,1102.6 2938.2,1104.1 2938.9,1105.6 2939.7,1107.1 2940.4,1108.6 2941.2,1110.1 2941.9,1111.6 2942.6,1113.0 2943.3,1114.5 2943.9,1116.0 2944.5,1117.5 2945.1,1119.0 2945.7,1120.5 2946.3,1122.0 2946.9,1123.5 2947.4,1124.9 2948.0,1126.4 2948.5,1127.9 2949.0,1129.4 2949,1129.4" fill="#f2a81d"/>
<polygon points="2949,1074.7 2909.5,1074.7 2911.1,1075.9 2912.9,1077.4 2914.6,1078.9 2916.4,1080.3 2918.4,1081.8 2920.6,1083.3 2922.6,1084.8 2924.3,1086.3 2925.6,1087.8 2926.8,1089.3 2928.0,1090.7 2929.2,1092.2 2930.4,1093.7 2931.7,1095.2 2932.9,1096.7 2934.2,1098.2 2935.4,1099.7 2936.5,1101.2 2937.4,1102.6 2938.2,1104.1 2938.9,1105.6 2939.7,1107.1 2940.4,1108.6 2941.2,1110.1 2941.9,1111.6 2942.6,1113.0 2943.3,1114.5 2943.9,1116.0 2944.5,1117.5 2945.1,1119.0 2945.7,1120.5 2946.3,1122.0 2946.9,1123.5 2947.4,1124.9 2948.0,1126.4 2948.5,1127.9 2949.0,1129.4 2949,1129.4" fill="#e8212b"/>
<polyline points="2949.0,995.6 2948.5,997.1 2947.9,998.6 2947.4,1000.1 2946.8,1001.5 2946.2,1003.0 2945.5,1004.5 2944.9,1006.0 2944.3,1007.5 2943.6,1009.0 2943.0,1010.5 2942.2,1012.0 2941.5,1013.4 2940.7,1014.9 2939.9,1016.4 2939.1,1017.9 2938.3,1019.4 2937.5,1020.9 2936.5,1022.4 2935.4,1023.8 2934.2,1025.3 2932.8,1026.8 2931.5,1028.3 2930.2,1029.8 2928.9,1031.3 2927.7,1032.8 2926.4,1034.3 2925.1,1035.7 2923.5,1037.2 2921.5,1038.7 2919.3,1040.2 2917.2,1041.7 2915.2,1043.2 2913.4,1044.7 2911.5,1046.1 2909.4,1047.6 2907.1,1049.1 2904.5,1050.6 2902.1,1052.1 2899.9,1053.6 2898.0,1055.1 2896.6,1056.6 2895.5,1058.0 2895.0,1059.5 2894.8,1061.0 2895.0,1062.5 2895.7,1064.0 2896.7,1065.5 2898.1,1067.0 2899.9,1068.4 2902.0,1069.9 2904.4,1071.4 2906.8,1072.9 2909.1,1074.4 2911.1,1075.9 2912.9,1077.4 2914.6,1078.9 2916.4,1080.3 2918.4,1081.8 2920.6,1083.3 2922.6,1084.8 2924.3,1086.3 2925.6,1087.8 2926.8,1089.3 2928.0,1090.7 2929.2,1092.2 2930.4,1093.7 2931.7,1095.2 2932.9,1096.7 2934.2,1098.2 2935.4,1099.7 2936.5,1101.2 2937.4,1102.6 2938.2,1104.1 2938.9,1105.6 2939.7,1107.1 2940.4,1108.6 2941.2,1110.1 2941.9,1111.6 2942.6,1113.0 2943.3,1114.5 2943.9,1116.0 2944.5,1117.5 2945.1,1119.0 2945.7,1120.5 2946.3,1122.0 2946.9,1123.5 2947.4,1124.9 2948.0,1126.4 2948.5,1127.9 2949.0,1129.4" fill="none" stroke="#2f6f80" stroke-width="1.3"/>
<line x1="2873.4" y1="879.2" x2="2873.4" y2="1126.5" stroke="#deb02c" stroke-width="2.6"/>
<line x1="2947.2" y1="876.3" x2="2947.2" y2="1128.6" stroke="#deb02c" stroke-width="2.6"/>
<g stroke="#8a8f98" stroke-width="1.3"><line x1="2865.2" y1="980.2" x2="2881.6" y2="980.2"/><line x1="2865.2" y1="990.1" x2="2881.6" y2="990.1"/><line x1="2865.2" y1="1000.0" x2="2881.6" y2="1000.0"/><line x1="2865.2" y1="1009.9" x2="2881.6" y2="1009.9"/><line x1="2865.2" y1="1019.8" x2="2881.6" y2="1019.8"/></g>
<g stroke="#8a8f98" stroke-width="1.3"><line x1="2939.0" y1="951.3" x2="2955.4" y2="951.3"/><line x1="2939.0" y1="961.2" x2="2955.4" y2="961.2"/><line x1="2939.0" y1="971.1" x2="2955.4" y2="971.1"/><line x1="2939.0" y1="981.0" x2="2955.4" y2="981.0"/><line x1="2939.0" y1="990.9" x2="2955.4" y2="990.9"/><line x1="2939.0" y1="1000.8" x2="2955.4" y2="1000.8"/><line x1="2939.0" y1="1010.7" x2="2955.4" y2="1010.7"/><line x1="2939.0" y1="1020.6" x2="2955.4" y2="1020.6"/><line x1="2939.0" y1="1030.5" x2="2955.4" y2="1030.5"/></g>
<path d="M2738.6 1004.9 H2818.9 Q2861.4 1004.9 2873.4 974.0" fill="none" stroke="#4a8fc9" stroke-width="1.8"/>
<path d="M2738.6 1123.6 H2818.9 Q2861.4 1123.6 2873.4 1091.5" fill="none" stroke="#4a8fc9" stroke-width="1.8"/>
<line x1="2732.4" y1="1033.8" x2="2873.4" y2="1033.8" stroke="#4a8fc9" stroke-width="2" stroke-dasharray="7 3.5"/>
<line x1="2891.1" y1="1033.8" x2="3070.4" y2="1033.8" stroke="#4a8fc9" stroke-width="2" stroke-dasharray="2.2 2.6"/>
<path d="M3074.6 909.3 H3008.6 Q2960.7 909.3 2947.2 946.4" fill="none" stroke="#deb02c" stroke-width="2.3"/>
<path d="M3082.8 1042.0 H3016.8 Q2962.5 1042.0 2947.2 1081.2" fill="none" stroke="#deb02c" stroke-width="2.3"/>
<line x1="2947.2" y1="993.4" x2="3084.9" y2="993.4" stroke="#deb02c" stroke-width="2.2" stroke-dasharray="7 3.5"/>
<g fill="#3c4d66"><circle cx="2873.4" cy="1037.1" r="5.2"/><circle cx="2873.4" cy="1048.2" r="5.2"/><circle cx="2873.4" cy="1060.6" r="5.2"/><circle cx="2873.4" cy="1071.7" r="5.2"/></g>
<g fill="#3c4d66"><circle cx="2947.2" cy="1041.2" r="5.2"/><circle cx="2947.2" cy="1052.3" r="5.2"/></g>
<g fill="#3c4d66"><circle cx="2936.4" cy="908.0" r="5.2"/><circle cx="2935.2" cy="924.5" r="5.2"/><circle cx="2948.0" cy="918.3" r="5.2"/></g>
<g fill="none" stroke="#4a5a30" stroke-width="1.4"><circle cx="2917.9" cy="1065.9" r="4.3"/><circle cx="2931.1" cy="1061.8" r="4.3"/><circle cx="2940.6" cy="1071.7" r="4.3"/></g>
<g fill="none" stroke="#8a2030" stroke-width="1.4"><circle cx="2934.4" cy="1081.2" r="4.3"/><circle cx="2940.6" cy="1089.4" r="4.3"/></g>
<line x1="2983.9" y1="957.5" x2="2983.9" y2="983.7" stroke="#4a8fc9" stroke-width="1.4"/><polygon points="2983.9,991.7 2980.4,983.7 2987.4,983.7" fill="#4a8fc9"/>
<line x1="2991.3" y1="1070.9" x2="2991.3" y2="1045.1" stroke="#4a8fc9" stroke-width="1.4"/><polygon points="2991.3,1037.1 2994.8,1045.1 2987.8,1045.1" fill="#4a8fc9"/>
<line x1="2942.6" y1="990.5" x2="2942.6" y2="948.1" stroke="#c4161c" stroke-width="2.4"/><polygon points="2942.6,938.1 2947.2,948.1 2938.0,948.1" fill="#c4161c"/>
<text x="3068.4" y="883.3" font-family='"Liberation Sans", sans-serif' font-size="20.5" font-weight="bold" font-style="italic" fill="#151515" stroke="#151515" stroke-width="0.35" textLength="43" lengthAdjust="spacingAndGlyphs">C.B.</text>
<text x="2740.6" y="992.5" font-family='"Liberation Sans", sans-serif' font-size="20.5" font-weight="bold" font-style="italic" fill="#151515" stroke="#151515" stroke-width="0.35" textLength="43" lengthAdjust="spacingAndGlyphs">C.B.</text>
<text x="3058.9" y="1078.3" font-family='"Liberation Sans", sans-serif' font-size="20.5" font-weight="bold" font-style="italic" fill="#151515" stroke="#151515" stroke-width="0.35" textLength="41" lengthAdjust="spacingAndGlyphs">V.B.</text>
<text x="2759.2" y="1110.0" font-family='"Liberation Sans", sans-serif' font-size="20.5" font-weight="bold" font-style="italic" fill="#151515" stroke="#151515" stroke-width="0.35" textLength="41" lengthAdjust="spacingAndGlyphs">V.B.</text>
<text x="3053.9" y="965.7" font-family='"Liberation Sans", sans-serif' font-weight="bold" fill="#151515" font-size="24.5" textLength="84" lengthAdjust="spacingAndGlyphs"><tspan font-style="italic">E</tspan><tspan font-size="15" dy="5">F, MoS2</tspan></text>
<text x="2756.3" y="1050.3" font-family='"Liberation Sans", sans-serif' font-weight="bold" fill="#151515" font-size="24.5" textLength="48" lengthAdjust="spacingAndGlyphs"><tspan font-style="italic">E</tspan><tspan font-size="15" dy="5">F,Si</tspan></text>
<text x="2990.0" y="1023.5" font-family='"Liberation Sans", sans-serif' font-weight="bold" fill="#151515" font-size="24.5" textLength="35" lengthAdjust="spacingAndGlyphs"><tspan font-style="italic">V</tspan><tspan font-size="15" dy="5">OC</tspan></text>
<text x="2764.5" y="1174.8" font-family='"Liberation Sans", sans-serif' font-size="23.5" font-weight="bold" fill="#151515" stroke="#151515" stroke-width="0.35" textLength="50" lengthAdjust="spacingAndGlyphs">n-Si</text>
<text x="2843.7" y="1174.8" font-family='"Liberation Sans", sans-serif' font-weight="bold" fill="#151515" font-size="24" textLength="156.5" lengthAdjust="spacingAndGlyphs"><tspan>SiO</tspan><tspan font-size="14.9" dy="6">2</tspan><tspan dy="-6"> (1-2nm)</tspan></text>
<text x="3025.9" y="1171.9" font-family='"Liberation Sans", sans-serif' font-weight="bold" fill="#151515" font-size="24" textLength="65" lengthAdjust="spacingAndGlyphs"><tspan>MoS</tspan><tspan font-size="14.9" dy="6">2</tspan></text>
</svg></body></html>
